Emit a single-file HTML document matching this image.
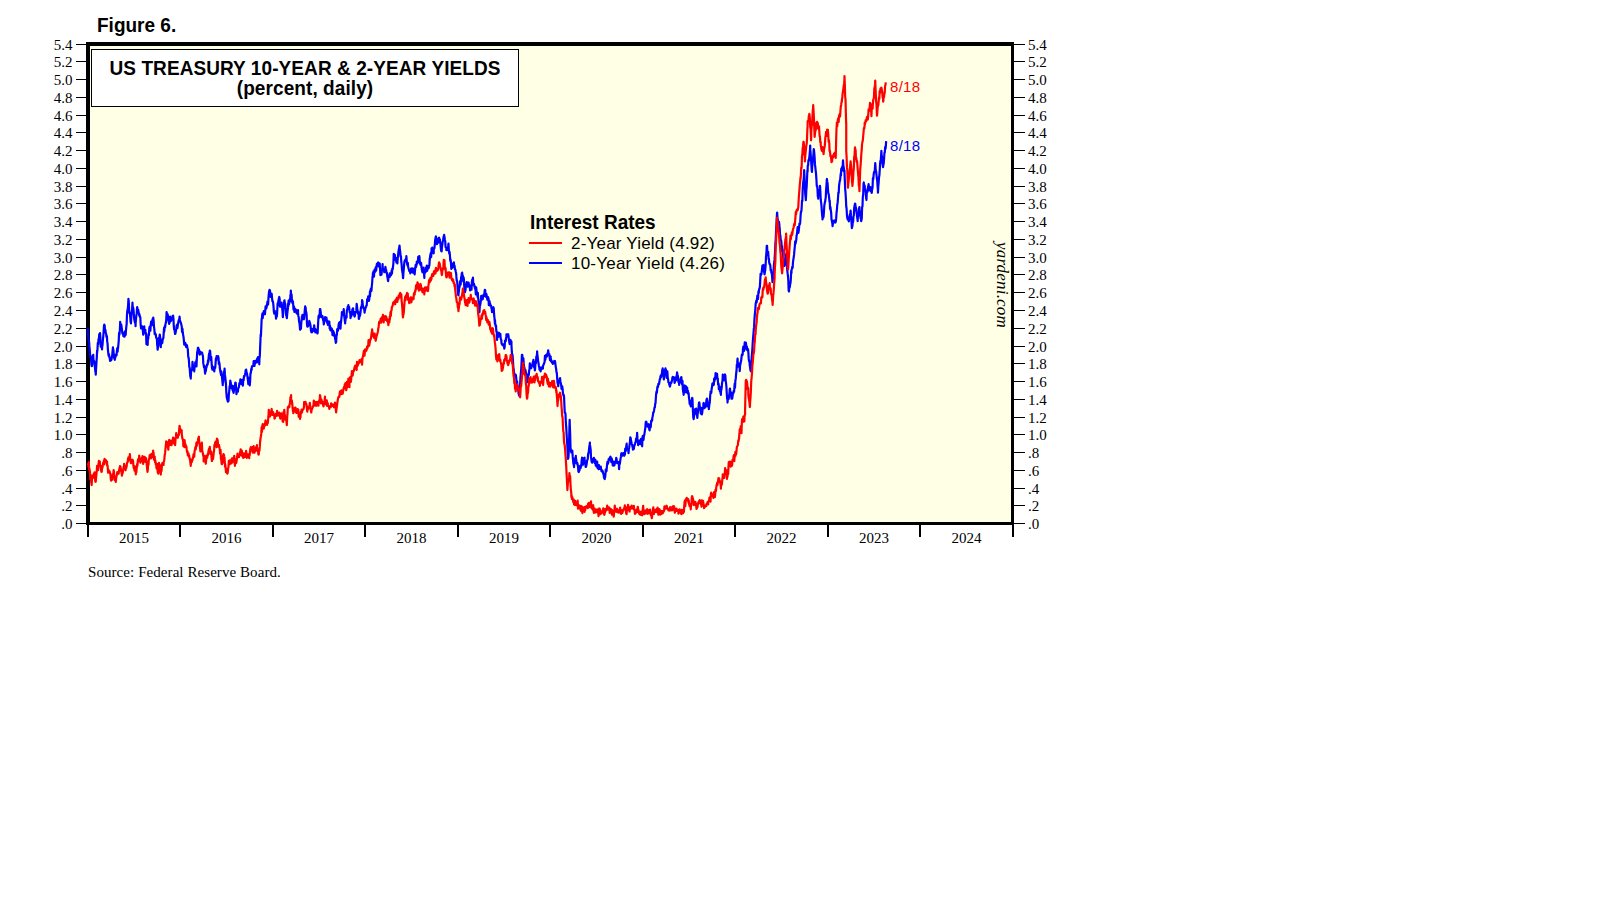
<!DOCTYPE html>
<html><head><meta charset="utf-8"><style>
html,body{margin:0;padding:0;width:1610px;height:910px;background:#fff;overflow:hidden;position:relative}
div{position:absolute;white-space:nowrap}
.yl,.yr,.xl,.src{font-family:"Liberation Serif",serif;font-size:15px;line-height:18px;color:#000}
.yl{text-align:right}
.xl{width:60px;text-align:center}
.sans{font-family:"Liberation Sans",sans-serif}
</style></head><body>
<svg width="1610" height="910" style="position:absolute;left:0;top:0" shape-rendering="crispEdges">
<rect x="90" y="46" width="921" height="476" fill="#FFFFE6"/>
<rect x="91.5" y="49.5" width="427" height="57" fill="#fff" stroke="#000" stroke-width="1"/>
<rect x="86" y="42" width="928" height="4" fill="#000"/>
<rect x="86" y="42" width="4" height="483" fill="#000"/>
<rect x="1011" y="42" width="3" height="483" fill="#000"/>
<rect x="86" y="522" width="928" height="3" fill="#000"/>
<rect x="76" y="44" width="10" height="1" fill="#000"/>
<rect x="1014" y="44" width="11" height="1" fill="#000"/>
<rect x="76" y="61" width="10" height="1" fill="#000"/>
<rect x="1014" y="61" width="11" height="1" fill="#000"/>
<rect x="76" y="79" width="10" height="1" fill="#000"/>
<rect x="1014" y="79" width="11" height="1" fill="#000"/>
<rect x="76" y="97" width="10" height="1" fill="#000"/>
<rect x="1014" y="97" width="11" height="1" fill="#000"/>
<rect x="76" y="115" width="10" height="1" fill="#000"/>
<rect x="1014" y="115" width="11" height="1" fill="#000"/>
<rect x="76" y="132" width="10" height="1" fill="#000"/>
<rect x="1014" y="132" width="11" height="1" fill="#000"/>
<rect x="76" y="150" width="10" height="1" fill="#000"/>
<rect x="1014" y="150" width="11" height="1" fill="#000"/>
<rect x="76" y="168" width="10" height="1" fill="#000"/>
<rect x="1014" y="168" width="11" height="1" fill="#000"/>
<rect x="76" y="186" width="10" height="1" fill="#000"/>
<rect x="1014" y="186" width="11" height="1" fill="#000"/>
<rect x="76" y="203" width="10" height="1" fill="#000"/>
<rect x="1014" y="203" width="11" height="1" fill="#000"/>
<rect x="76" y="221" width="10" height="1" fill="#000"/>
<rect x="1014" y="221" width="11" height="1" fill="#000"/>
<rect x="76" y="239" width="10" height="1" fill="#000"/>
<rect x="1014" y="239" width="11" height="1" fill="#000"/>
<rect x="76" y="257" width="10" height="1" fill="#000"/>
<rect x="1014" y="257" width="11" height="1" fill="#000"/>
<rect x="76" y="274" width="10" height="1" fill="#000"/>
<rect x="1014" y="274" width="11" height="1" fill="#000"/>
<rect x="76" y="292" width="10" height="1" fill="#000"/>
<rect x="1014" y="292" width="11" height="1" fill="#000"/>
<rect x="76" y="310" width="10" height="1" fill="#000"/>
<rect x="1014" y="310" width="11" height="1" fill="#000"/>
<rect x="76" y="328" width="10" height="1" fill="#000"/>
<rect x="1014" y="328" width="11" height="1" fill="#000"/>
<rect x="76" y="346" width="10" height="1" fill="#000"/>
<rect x="1014" y="346" width="11" height="1" fill="#000"/>
<rect x="76" y="363" width="10" height="1" fill="#000"/>
<rect x="1014" y="363" width="11" height="1" fill="#000"/>
<rect x="76" y="381" width="10" height="1" fill="#000"/>
<rect x="1014" y="381" width="11" height="1" fill="#000"/>
<rect x="76" y="399" width="10" height="1" fill="#000"/>
<rect x="1014" y="399" width="11" height="1" fill="#000"/>
<rect x="76" y="417" width="10" height="1" fill="#000"/>
<rect x="1014" y="417" width="11" height="1" fill="#000"/>
<rect x="76" y="434" width="10" height="1" fill="#000"/>
<rect x="1014" y="434" width="11" height="1" fill="#000"/>
<rect x="76" y="452" width="10" height="1" fill="#000"/>
<rect x="1014" y="452" width="11" height="1" fill="#000"/>
<rect x="76" y="470" width="10" height="1" fill="#000"/>
<rect x="1014" y="470" width="11" height="1" fill="#000"/>
<rect x="76" y="488" width="10" height="1" fill="#000"/>
<rect x="1014" y="488" width="11" height="1" fill="#000"/>
<rect x="76" y="505" width="10" height="1" fill="#000"/>
<rect x="1014" y="505" width="11" height="1" fill="#000"/>
<rect x="76" y="523" width="10" height="1" fill="#000"/>
<rect x="1014" y="523" width="11" height="1" fill="#000"/>
<rect x="87" y="525" width="2" height="12" fill="#000"/>
<rect x="179" y="525" width="2" height="12" fill="#000"/>
<rect x="272" y="525" width="2" height="12" fill="#000"/>
<rect x="364" y="525" width="2" height="12" fill="#000"/>
<rect x="457" y="525" width="2" height="12" fill="#000"/>
<rect x="549" y="525" width="2" height="12" fill="#000"/>
<rect x="642" y="525" width="2" height="12" fill="#000"/>
<rect x="734" y="525" width="2" height="12" fill="#000"/>
<rect x="827" y="525" width="2" height="12" fill="#000"/>
<rect x="919" y="525" width="2" height="12" fill="#000"/>
<rect x="1012" y="525" width="2" height="12" fill="#000"/>
</svg>
<svg width="1610" height="910" style="position:absolute;left:0;top:0">
<path d="M87.75 328.21 L87.75 330.66 L88.11 334.28 L88.47 339.86 L88.83 341.03 L89.19 342.27 L89.40 347.14 L89.55 347.46 L89.91 352.16 L90.27 356.95 L90.63 355.90 L90.99 357.57 L91.35 364.21 L91.59 365.82 L91.71 366.16 L92.07 366.06 L92.43 363.25 L92.79 358.56 L93.15 355.12 L93.24 354.84 L93.51 361.95 L93.87 360.66 L94.23 361.26 L94.59 362.70 L94.95 367.57 L95.31 371.11 L95.67 373.16 L95.77 374.62 L96.03 369.56 L96.39 363.73 L96.75 358.20 L97.09 350.44 L97.11 352.97 L97.47 349.38 L97.83 342.79 L98.19 344.28 L98.55 338.98 L98.91 338.37 L99.27 334.07 L99.63 334.22 L99.84 333.96 L99.99 333.17 L100.35 337.41 L100.71 346.62 L101.07 344.45 L101.43 347.35 L101.79 345.65 L102.03 349.34 L102.15 346.89 L102.51 344.98 L102.87 340.06 L103.23 336.68 L103.59 332.29 L103.95 325.92 L104.23 324.62 L104.31 325.53 L104.67 325.17 L105.03 331.59 L105.39 329.92 L105.75 332.96 L106.11 333.66 L106.47 336.93 L106.83 335.96 L106.98 337.25 L107.19 341.30 L107.55 343.62 L107.91 349.78 L108.27 353.04 L108.63 355.73 L108.63 354.84 L108.99 354.12 L109.35 357.14 L109.71 357.85 L110.07 360.81 L110.43 358.06 L110.79 359.51 L111.15 360.25 L111.37 359.23 L111.51 359.41 L111.87 356.98 L112.23 354.69 L112.59 350.93 L112.95 347.45 L113.02 349.34 L113.31 349.18 L113.67 353.09 L114.03 357.27 L114.39 358.64 L114.67 357.03 L114.75 359.79 L115.11 358.17 L115.47 356.77 L115.83 354.57 L116.19 354.33 L116.55 355.50 L116.91 350.90 L117.27 348.03 L117.63 351.72 L117.97 347.14 L117.99 348.47 L118.35 345.18 L118.71 341.10 L119.07 332.96 L119.43 334.76 L119.79 331.08 L120.15 323.89 L120.17 321.87 L120.51 325.29 L120.87 325.55 L121.23 324.61 L121.59 326.88 L121.95 329.54 L122.31 332.83 L122.67 334.01 L122.91 332.86 L123.03 333.71 L123.39 336.17 L123.75 332.89 L124.11 335.21 L124.47 336.74 L124.83 334.60 L125.19 331.16 L125.55 332.10 L125.66 335.05 L125.91 331.03 L126.27 327.08 L126.63 324.24 L126.99 314.58 L127.31 310.88 L127.35 310.33 L127.71 309.48 L128.07 305.96 L128.43 298.83 L128.74 301.54 L128.79 302.29 L129.15 310.69 L129.51 313.34 L129.87 313.04 L130.23 316.70 L130.59 321.80 L130.61 321.87 L130.95 323.35 L131.31 317.37 L131.67 311.98 L132.03 310.65 L132.39 304.38 L132.47 302.64 L132.75 308.73 L133.11 307.34 L133.47 309.27 L133.83 314.18 L134.19 319.00 L134.55 320.83 L134.91 322.62 L135.27 320.84 L135.55 326.26 L135.63 322.95 L135.99 319.21 L136.35 315.31 L136.71 313.43 L137.07 308.09 L137.20 307.03 L137.43 309.21 L137.79 309.54 L138.15 309.63 L138.51 311.38 L138.87 313.34 L139.23 315.61 L139.40 314.18 L139.59 315.06 L139.95 317.19 L140.31 317.20 L140.67 324.78 L141.03 328.39 L141.39 327.85 L141.59 328.46 L141.75 327.90 L142.11 326.36 L142.47 328.99 L142.83 330.14 L143.19 334.73 L143.55 332.52 L143.91 330.10 L144.27 326.33 L144.63 333.19 L144.99 333.10 L145.35 329.76 L145.44 332.86 L145.71 333.79 L146.07 332.93 L146.43 344.24 L146.79 344.29 L147.15 344.60 L147.51 344.58 L147.64 344.95 L147.87 339.05 L148.23 339.02 L148.59 334.26 L148.95 335.25 L149.31 328.18 L149.67 326.63 L149.84 328.46 L150.03 329.46 L150.39 330.73 L150.75 324.79 L151.11 321.63 L151.47 324.84 L151.83 325.07 L152.19 320.79 L152.55 319.42 L152.91 318.34 L153.13 319.67 L153.27 317.56 L153.63 320.52 L153.99 326.84 L154.35 329.19 L154.71 334.21 L155.07 333.00 L155.43 334.12 L155.79 334.33 L156.15 337.69 L156.51 337.89 L156.87 338.60 L157.23 345.34 L157.53 347.14 L157.59 349.71 L157.95 347.38 L158.31 346.28 L158.67 342.41 L159.03 337.92 L159.39 336.79 L159.73 335.05 L159.75 334.51 L160.11 336.80 L160.47 339.09 L160.83 347.14 L160.83 342.93 L161.19 344.18 L161.55 343.69 L161.91 341.12 L162.27 342.97 L162.63 339.86 L162.99 338.55 L163.35 338.26 L163.71 332.91 L164.07 327.84 L164.12 331.76 L164.43 329.99 L164.79 326.06 L165.15 327.22 L165.51 323.95 L165.87 322.65 L166.23 320.11 L166.59 311.99 L166.87 313.63 L166.95 314.29 L167.31 313.89 L167.67 314.46 L168.03 316.13 L168.39 319.90 L168.75 322.12 L169.11 323.89 L169.47 319.94 L169.62 322.97 L169.83 320.61 L170.19 316.49 L170.55 319.30 L170.91 321.04 L171.27 318.33 L171.63 319.03 L171.99 318.71 L172.35 319.67 L172.71 315.79 L172.91 316.37 L173.07 315.66 L173.43 318.38 L173.79 326.25 L174.15 329.30 L174.51 329.80 L174.87 332.67 L175.11 333.96 L175.23 333.94 L175.59 332.70 L175.95 330.56 L176.31 328.72 L176.67 325.38 L177.03 324.66 L177.39 328.09 L177.75 325.94 L178.11 323.41 L178.47 321.14 L178.83 320.07 L179.19 319.39 L179.51 317.47 L179.55 316.62 L179.91 319.68 L180.27 322.02 L180.63 322.08 L180.99 323.36 L181.35 324.66 L181.71 326.26 L182.07 331.98 L182.43 328.54 L182.79 333.03 L183.15 335.03 L183.51 336.95 L183.87 340.30 L184.23 344.70 L184.29 342.86 L184.59 344.06 L184.95 343.70 L185.31 342.98 L185.67 344.07 L186.03 346.81 L186.39 345.36 L186.43 345.71 L186.75 345.03 L187.11 346.09 L187.47 348.07 L187.83 349.44 L188.19 356.17 L188.55 358.05 L188.57 357.14 L188.91 360.34 L189.27 366.97 L189.63 367.25 L189.99 372.67 L190.35 376.91 L190.71 376.01 L190.72 378.57 L191.07 371.72 L191.43 369.53 L191.79 370.40 L192.15 369.31 L192.51 361.80 L192.57 362.86 L192.87 365.95 L193.23 365.86 L193.59 367.07 L193.95 368.37 L194.29 371.43 L194.31 370.26 L194.67 365.44 L195.03 364.29 L195.39 362.13 L195.75 363.59 L196.11 365.88 L196.43 360.00 L196.47 366.46 L196.83 358.73 L197.19 352.00 L197.55 350.96 L197.91 347.94 L198.27 351.23 L198.29 347.86 L198.63 351.25 L198.99 349.67 L199.35 353.46 L199.71 354.75 L200.00 354.29 L200.07 351.46 L200.43 352.10 L200.79 352.71 L201.15 353.24 L201.51 353.46 L201.87 352.42 L202.14 352.86 L202.23 353.64 L202.59 354.85 L202.95 356.36 L203.31 363.40 L203.67 364.97 L204.03 367.36 L204.39 365.77 L204.75 369.92 L205.00 372.86 L205.11 373.71 L205.47 368.79 L205.83 371.08 L206.19 367.79 L206.55 367.38 L206.91 365.17 L207.14 364.29 L207.27 364.15 L207.63 364.64 L207.99 360.44 L208.35 361.98 L208.71 356.62 L209.07 353.57 L209.43 354.81 L209.79 350.50 L210.00 351.43 L210.15 351.10 L210.51 356.23 L210.87 360.06 L211.23 356.91 L211.59 362.21 L211.95 368.24 L212.14 365.71 L212.31 369.69 L212.67 367.69 L213.03 367.05 L213.39 368.13 L213.75 367.42 L214.11 369.65 L214.29 371.43 L214.47 369.51 L214.83 367.48 L215.19 367.93 L215.55 363.64 L215.91 358.30 L216.27 360.12 L216.43 357.86 L216.63 356.15 L216.99 356.62 L217.35 357.47 L217.71 357.39 L218.07 356.13 L218.43 357.34 L218.57 358.57 L218.79 363.88 L219.15 362.02 L219.51 363.91 L219.87 368.51 L220.23 370.65 L220.59 372.83 L220.72 371.43 L220.95 375.05 L221.31 371.37 L221.67 373.82 L222.03 377.88 L222.39 381.18 L222.75 385.11 L222.86 382.86 L223.11 382.56 L223.47 377.83 L223.83 374.87 L224.19 371.38 L224.55 369.15 L224.57 368.57 L224.91 374.42 L225.27 377.43 L225.63 380.68 L225.99 384.87 L226.35 393.32 L226.43 392.86 L226.71 397.16 L227.07 398.70 L227.43 400.05 L227.79 401.57 L228.15 401.52 L228.29 401.43 L228.51 400.76 L228.87 393.97 L229.23 391.11 L229.59 386.68 L229.95 385.75 L230.29 381.43 L230.31 380.62 L230.67 382.28 L231.03 384.66 L231.39 388.17 L231.75 385.80 L232.11 385.67 L232.47 390.02 L232.83 388.36 L233.19 391.85 L233.55 391.73 L233.57 392.86 L233.91 390.77 L234.27 385.81 L234.63 388.22 L234.99 385.34 L235.35 382.50 L235.71 386.42 L235.72 382.86 L236.07 387.11 L236.43 394.18 L236.79 391.37 L237.14 390.00 L237.15 390.24 L237.51 389.41 L237.87 391.56 L238.23 388.33 L238.59 387.72 L238.95 387.06 L239.31 383.40 L239.67 383.78 L240.03 382.02 L240.39 379.41 L240.72 381.43 L240.75 382.40 L241.11 383.82 L241.47 383.56 L241.83 382.03 L242.19 379.88 L242.55 384.72 L242.86 385.71 L242.91 385.13 L243.27 380.00 L243.63 380.32 L243.99 376.11 L244.35 376.45 L244.71 375.50 L245.07 374.26 L245.43 372.22 L245.72 370.00 L245.79 370.83 L246.15 369.61 L246.51 371.77 L246.87 373.17 L247.23 375.15 L247.59 377.76 L247.95 380.25 L248.31 384.04 L248.67 377.77 L249.03 382.84 L249.29 384.29 L249.39 383.02 L249.75 385.30 L250.11 381.45 L250.47 373.27 L250.83 373.08 L251.19 369.33 L251.43 368.57 L251.55 370.08 L251.91 366.25 L252.27 366.63 L252.63 366.30 L252.99 365.90 L253.35 364.43 L253.71 361.10 L254.07 364.32 L254.29 364.29 L254.43 365.95 L254.79 363.84 L255.15 360.87 L255.51 361.98 L255.87 362.60 L256.23 360.86 L256.59 360.22 L256.95 362.43 L257.14 359.29 L257.31 358.27 L257.67 358.97 L258.03 357.08 L258.39 359.51 L258.75 360.75 L259.11 361.26 L259.29 364.29 L259.47 358.30 L259.83 355.86 L260.19 345.84 L260.55 337.71 L260.72 334.29 L260.91 336.15 L261.27 328.29 L261.63 319.31 L261.99 317.61 L262.14 315.71 L262.35 313.70 L262.71 318.14 L263.07 313.57 L263.43 313.41 L263.79 311.18 L264.15 313.79 L264.51 312.23 L264.87 313.53 L265.00 314.29 L265.23 310.79 L265.59 306.30 L265.72 306.43 L265.95 307.74 L266.31 308.43 L266.67 306.77 L267.03 304.22 L267.14 305.71 L267.39 301.56 L267.75 301.64 L268.11 304.32 L268.47 297.83 L268.83 293.63 L269.19 290.95 L269.29 292.14 L269.55 289.84 L269.91 290.41 L270.27 292.54 L270.63 296.87 L270.99 295.73 L271.35 294.78 L271.43 295.71 L271.71 293.85 L272.07 298.77 L272.43 301.22 L272.79 301.00 L273.15 302.67 L273.51 306.70 L273.87 311.47 L274.23 313.58 L274.29 312.14 L274.59 312.73 L274.95 311.00 L275.00 311.30 L275.31 312.75 L275.67 313.44 L276.03 318.77 L276.39 314.51 L276.75 315.52 L276.76 316.57 L277.11 313.56 L277.47 306.06 L277.64 303.39 L277.83 305.58 L278.19 302.15 L278.55 300.58 L278.91 298.15 L278.96 298.56 L279.27 296.98 L279.63 298.65 L279.99 306.62 L280.27 304.27 L280.35 306.54 L280.71 305.61 L281.07 305.69 L281.43 304.61 L281.59 302.51 L281.79 307.09 L282.15 308.33 L282.51 311.31 L282.87 317.14 L282.91 315.69 L283.23 312.45 L283.59 306.39 L283.95 304.33 L284.31 300.63 L284.49 300.32 L284.67 302.50 L285.03 303.36 L285.39 304.93 L285.55 308.66 L285.75 308.67 L286.11 315.28 L286.47 315.83 L286.83 318.18 L286.86 317.89 L287.19 314.50 L287.55 311.01 L287.91 308.45 L288.18 303.39 L288.27 306.68 L288.63 300.53 L288.99 304.36 L289.35 302.44 L289.50 301.63 L289.71 299.44 L290.07 301.56 L290.43 294.96 L290.79 295.11 L290.82 290.65 L291.15 296.16 L291.51 294.38 L291.87 298.65 L292.14 299.88 L292.23 302.22 L292.59 303.44 L292.95 301.25 L293.31 306.41 L293.45 309.54 L293.67 308.40 L294.03 306.64 L294.39 311.82 L294.75 309.06 L294.77 308.66 L295.11 308.83 L295.47 309.60 L295.83 309.50 L296.19 310.11 L296.53 313.06 L296.55 312.62 L296.91 313.55 L297.27 312.19 L297.63 312.62 L297.99 310.15 L298.02 313.06 L298.35 315.91 L298.71 317.26 L299.07 321.68 L299.43 322.84 L299.79 326.06 L300.04 329.75 L300.15 329.09 L300.51 324.54 L300.87 329.02 L301.23 323.84 L301.36 321.85 L301.59 320.56 L301.95 316.54 L302.31 318.31 L302.42 314.82 L302.67 319.20 L303.03 318.40 L303.39 315.62 L303.75 317.30 L303.82 319.21 L304.11 317.93 L304.47 313.85 L304.83 309.51 L305.19 306.42 L305.32 308.66 L305.55 307.41 L305.91 311.10 L306.27 312.22 L306.63 315.24 L306.64 315.69 L306.99 323.98 L307.35 326.58 L307.71 323.76 L307.95 326.24 L308.07 326.31 L308.43 324.67 L308.79 322.72 L309.15 323.49 L309.27 320.97 L309.51 321.94 L309.87 322.88 L310.23 324.16 L310.59 326.19 L310.95 330.66 L311.31 332.07 L311.67 329.35 L311.91 332.39 L312.03 330.61 L312.39 329.15 L312.75 331.31 L313.11 330.14 L313.47 330.50 L313.67 328.00 L313.83 328.80 L314.19 325.37 L314.55 329.56 L314.91 330.88 L315.27 332.34 L315.42 331.51 L315.63 329.37 L315.99 331.33 L316.35 330.54 L316.71 330.45 L317.07 332.66 L317.43 333.47 L317.62 332.83 L317.79 329.30 L318.15 322.77 L318.51 316.35 L318.87 315.28 L318.94 317.45 L319.23 317.67 L319.59 315.22 L319.95 309.11 L320.31 309.07 L320.52 311.30 L320.67 311.67 L321.03 316.12 L321.39 317.19 L321.75 316.65 L322.01 315.69 L322.11 317.08 L322.47 316.12 L322.83 318.31 L323.19 320.47 L323.55 321.49 L323.77 324.48 L323.91 323.27 L324.27 320.75 L324.63 320.02 L324.99 320.57 L325.09 317.01 L325.35 320.10 L325.71 320.27 L326.07 319.69 L326.43 317.65 L326.79 320.54 L326.85 321.85 L327.15 322.89 L327.51 320.71 L327.87 324.84 L328.23 323.15 L328.59 324.31 L328.95 323.51 L329.31 321.66 L329.48 324.48 L329.67 328.75 L330.03 325.89 L330.36 328.88 L330.39 330.34 L330.75 328.53 L331.11 329.87 L331.47 328.32 L331.83 328.85 L332.19 331.90 L332.55 335.08 L332.91 330.66 L333.27 331.27 L333.44 331.51 L333.63 334.08 L333.99 332.83 L334.35 336.06 L334.71 334.97 L335.07 338.34 L335.43 339.94 L335.79 342.90 L336.07 341.18 L336.15 342.08 L336.51 335.49 L336.87 335.04 L337.23 329.19 L337.39 329.75 L337.59 329.87 L337.95 330.82 L338.31 328.27 L338.67 324.19 L339.03 325.45 L339.15 322.72 L339.39 324.37 L339.75 322.14 L340.11 323.92 L340.47 326.24 L340.47 328.66 L340.83 323.47 L341.19 320.75 L341.55 316.98 L341.78 315.69 L341.91 311.99 L342.27 313.03 L342.63 314.77 L342.99 314.69 L343.35 313.60 L343.71 309.05 L343.98 313.06 L344.07 314.72 L344.43 317.52 L344.79 320.48 L345.15 323.43 L345.30 320.97 L345.51 319.98 L345.87 316.76 L346.23 316.29 L346.59 317.52 L346.62 313.94 L346.95 309.94 L347.31 309.32 L347.67 306.91 L348.03 307.47 L348.38 305.15 L348.39 308.33 L348.75 307.58 L349.11 306.87 L349.47 310.65 L349.83 312.53 L350.19 311.99 L350.55 318.09 L350.57 317.45 L350.91 315.56 L351.27 316.35 L351.63 311.78 L351.99 314.42 L352.35 309.34 L352.71 311.99 L352.77 310.42 L353.07 308.26 L353.43 314.53 L353.79 313.78 L354.15 312.07 L354.51 315.09 L354.53 316.57 L354.87 315.80 L355.23 312.56 L355.59 311.83 L355.95 312.38 L356.31 310.91 L356.67 303.92 L357.03 306.34 L357.16 308.66 L357.39 309.42 L357.75 311.14 L358.11 313.89 L358.47 312.12 L358.83 318.88 L359.19 318.21 L359.36 315.69 L359.55 316.36 L359.91 315.77 L360.27 314.15 L360.63 310.79 L360.99 307.16 L361.35 308.18 L361.71 306.11 L362.00 303.39 L362.07 300.19 L362.43 301.16 L362.79 305.17 L363.15 306.23 L363.51 307.47 L363.87 309.14 L364.23 309.23 L364.59 312.70 L364.95 309.98 L365.07 310.42 L365.31 308.34 L365.67 307.71 L366.03 307.05 L366.39 305.63 L366.75 305.29 L367.11 299.95 L367.27 299.00 L367.47 301.13 L367.83 299.97 L368.19 296.30 L368.55 296.71 L368.91 300.98 L369.27 299.35 L369.46 296.36 L369.63 296.27 L369.99 291.60 L370.00 296.43 L370.35 291.08 L370.71 289.20 L371.07 288.43 L371.10 288.74 L371.43 290.79 L371.79 286.52 L372.15 282.52 L372.51 276.98 L372.75 276.65 L372.87 273.25 L373.23 272.99 L373.59 271.14 L373.85 271.15 L373.95 276.67 L374.31 271.57 L374.67 269.36 L375.03 271.94 L375.39 270.36 L375.75 267.01 L376.04 268.96 L376.11 270.67 L376.47 267.63 L376.83 263.93 L377.19 265.37 L377.55 265.37 L377.91 262.97 L378.24 262.36 L378.27 263.77 L378.63 266.31 L378.99 264.93 L379.35 263.43 L379.71 263.57 L380.07 269.40 L380.43 275.12 L380.44 273.35 L380.79 274.78 L381.15 274.60 L381.51 274.66 L381.87 270.18 L382.23 270.09 L382.59 264.08 L382.64 266.21 L382.95 268.04 L383.31 269.66 L383.67 270.09 L384.03 270.45 L384.29 272.25 L384.39 269.26 L384.75 269.48 L385.11 270.56 L385.39 266.76 L385.47 267.18 L385.83 270.12 L386.19 269.92 L386.55 273.01 L386.91 272.72 L387.27 276.72 L387.63 278.03 L387.99 280.81 L388.13 281.04 L388.35 278.98 L388.71 275.69 L389.07 275.22 L389.43 276.63 L389.78 273.35 L389.79 277.00 L390.15 273.80 L390.51 275.08 L390.87 275.39 L391.23 274.75 L391.59 270.67 L391.95 273.19 L391.98 273.35 L392.31 268.57 L392.67 269.25 L393.03 266.54 L393.39 263.24 L393.75 253.80 L394.11 255.14 L394.18 254.67 L394.47 257.06 L394.83 254.80 L395.19 259.51 L395.55 260.01 L395.91 260.53 L396.27 260.50 L396.37 262.36 L396.63 258.70 L396.99 257.89 L397.35 263.51 L397.71 258.25 L398.07 255.51 L398.43 251.80 L398.79 249.57 L399.15 247.86 L399.51 245.50 L399.67 246.98 L399.87 249.76 L400.23 251.59 L400.59 256.59 L400.95 256.23 L401.31 262.48 L401.32 261.26 L401.67 265.09 L402.03 269.79 L402.39 272.17 L402.75 273.84 L402.97 277.75 L403.11 278.25 L403.47 272.45 L403.83 268.76 L404.19 263.66 L404.55 261.79 L404.62 261.26 L404.91 260.05 L405.27 260.71 L405.63 260.70 L405.99 258.29 L406.26 259.07 L406.35 256.21 L406.71 260.61 L407.07 263.82 L407.43 265.27 L407.79 262.94 L408.15 266.67 L408.51 268.27 L408.87 269.47 L409.23 271.05 L409.56 271.15 L409.59 270.85 L409.95 271.62 L410.31 273.36 L410.67 271.10 L411.03 268.64 L411.39 270.65 L411.75 271.94 L412.11 268.33 L412.47 269.67 L412.83 272.69 L412.86 272.25 L413.19 271.76 L413.55 271.70 L413.91 268.72 L414.27 271.91 L414.63 274.31 L414.99 270.87 L415.06 270.05 L415.35 267.65 L415.71 264.76 L416.07 266.98 L416.43 265.07 L416.79 261.69 L417.15 263.68 L417.25 261.26 L417.51 263.01 L417.87 262.19 L418.23 256.84 L418.59 258.16 L418.95 259.64 L419.31 256.01 L419.45 257.97 L419.67 260.04 L420.03 263.50 L420.39 264.75 L420.75 262.62 L421.11 263.02 L421.47 267.44 L421.65 266.76 L421.83 269.60 L422.19 271.23 L422.55 272.27 L422.91 270.59 L423.27 270.07 L423.63 267.62 L423.99 272.77 L424.35 277.91 L424.40 273.35 L424.71 273.20 L425.07 271.20 L425.43 272.34 L425.79 271.63 L426.15 267.43 L426.51 266.97 L426.87 265.57 L427.14 267.86 L427.23 270.78 L427.59 265.96 L427.95 266.85 L428.31 268.44 L428.67 268.06 L429.03 266.20 L429.39 265.25 L429.75 258.42 L429.89 259.07 L430.11 256.89 L430.47 254.23 L430.83 252.96 L431.19 257.06 L431.54 250.27 L431.55 248.39 L431.91 250.64 L432.27 247.60 L432.63 251.72 L432.99 252.75 L433.35 249.31 L433.71 253.31 L433.74 249.18 L434.07 248.66 L434.43 248.23 L434.79 244.66 L435.15 240.40 L435.51 238.03 L435.87 236.40 L435.94 236.54 L436.23 238.42 L436.59 238.91 L436.95 244.22 L437.31 241.40 L437.67 240.70 L438.03 240.67 L438.13 242.58 L438.39 240.03 L438.75 237.86 L439.11 237.61 L439.47 240.82 L439.78 239.29 L439.83 239.99 L440.19 241.77 L440.55 245.03 L440.91 249.12 L441.27 251.13 L441.43 250.27 L441.63 251.33 L441.99 246.78 L442.35 244.65 L442.71 241.62 L443.07 240.71 L443.43 237.63 L443.79 236.24 L444.15 234.85 L444.18 235.44 L444.51 237.02 L444.87 239.38 L445.23 241.33 L445.59 247.23 L445.95 247.39 L446.31 247.80 L446.37 250.27 L446.67 250.17 L447.03 248.29 L447.39 247.86 L447.75 250.15 L448.11 247.43 L448.47 243.61 L448.83 249.58 L449.12 251.37 L449.19 253.47 L449.55 251.91 L449.91 255.01 L450.27 260.90 L450.63 259.56 L450.99 263.40 L451.32 268.96 L451.35 265.63 L451.71 266.99 L452.07 263.47 L452.43 267.77 L452.79 266.61 L453.15 266.78 L453.51 265.19 L453.52 265.66 L453.87 262.39 L454.23 266.31 L454.59 265.92 L454.95 269.31 L455.31 269.41 L455.67 271.31 L456.03 272.90 L456.26 274.45 L456.39 276.93 L456.75 280.97 L457.11 281.03 L457.47 285.42 L457.83 292.08 L458.19 294.55 L458.46 295.33 L458.55 293.67 L458.91 290.95 L459.27 287.50 L459.63 286.85 L459.99 282.66 L460.11 281.04 L460.35 281.49 L460.71 284.55 L461.07 277.78 L461.43 275.98 L461.79 273.50 L462.15 272.53 L462.51 276.63 L462.86 275.55 L462.87 276.31 L463.23 281.43 L463.59 277.39 L463.95 280.00 L464.31 287.07 L464.67 290.00 L465.03 292.23 L465.06 289.84 L465.39 290.80 L465.75 287.42 L466.11 285.15 L466.47 283.38 L466.70 282.14 L466.83 284.02 L467.19 282.94 L467.55 283.89 L467.91 286.76 L468.27 282.78 L468.63 282.65 L468.99 285.55 L469.35 285.08 L469.71 285.47 L470.07 290.41 L470.43 288.84 L470.72 287.14 L470.79 286.63 L471.15 287.54 L471.51 289.65 L471.87 282.01 L472.23 279.60 L472.59 279.44 L472.86 278.57 L472.95 277.66 L473.31 284.61 L473.67 284.59 L474.03 283.91 L474.39 286.66 L474.75 286.08 L475.00 288.57 L475.11 287.13 L475.47 289.00 L475.83 294.51 L476.19 287.26 L476.55 290.80 L476.91 294.11 L477.27 294.26 L477.63 297.04 L477.86 292.86 L477.99 296.68 L478.35 299.71 L478.71 303.09 L479.07 305.67 L479.29 310.00 L479.43 312.10 L479.79 306.12 L480.15 305.27 L480.51 303.04 L480.87 300.67 L481.23 295.91 L481.43 300.00 L481.59 297.41 L481.95 298.56 L482.31 298.41 L482.67 299.26 L483.03 297.00 L483.39 294.86 L483.75 295.61 L484.11 296.05 L484.47 292.54 L484.83 289.75 L485.00 292.86 L485.19 290.07 L485.55 294.92 L485.91 296.66 L486.27 293.82 L486.63 295.36 L486.99 297.69 L487.35 299.76 L487.71 296.82 L488.07 297.17 L488.43 300.98 L488.57 298.57 L488.79 304.94 L489.15 305.33 L489.51 300.99 L489.87 303.75 L490.23 303.96 L490.59 305.39 L490.95 305.49 L491.31 306.77 L491.43 308.57 L491.67 308.14 L492.03 312.05 L492.39 311.01 L492.75 310.16 L493.11 309.10 L493.47 307.23 L493.57 308.57 L493.83 309.76 L494.19 315.72 L494.55 318.70 L494.91 323.88 L495.00 320.00 L495.27 324.23 L495.63 325.97 L495.99 325.48 L496.35 331.55 L496.71 331.31 L497.07 339.92 L497.14 338.57 L497.43 337.34 L497.79 337.09 L498.15 333.80 L498.51 334.02 L498.87 332.71 L499.23 335.94 L499.29 334.29 L499.59 336.45 L499.95 334.86 L500.31 333.89 L500.67 338.33 L501.03 339.83 L501.39 340.05 L501.43 342.86 L501.75 343.88 L502.11 343.96 L502.47 345.08 L502.83 344.52 L503.19 344.89 L503.55 345.73 L503.91 344.20 L504.27 348.71 L504.29 348.57 L504.63 347.15 L504.99 340.71 L505.35 340.74 L505.71 341.18 L506.07 337.79 L506.43 337.22 L506.43 334.29 L506.79 335.52 L507.15 336.19 L507.51 334.41 L507.87 335.30 L508.23 334.36 L508.59 336.57 L508.95 340.14 L509.29 341.43 L509.31 342.33 L509.67 344.03 L510.03 342.47 L510.39 339.76 L510.75 341.79 L511.11 341.25 L511.43 341.43 L511.47 345.46 L511.83 351.72 L512.19 354.96 L512.55 355.09 L512.91 359.72 L513.27 365.90 L513.57 370.00 L513.63 368.74 L513.99 371.95 L514.35 374.04 L514.71 375.78 L515.07 375.89 L515.43 374.50 L515.79 374.97 L516.15 377.36 L516.51 381.78 L516.87 384.41 L517.14 381.43 L517.23 385.05 L517.59 385.76 L517.95 388.10 L518.31 390.61 L518.67 393.82 L519.03 395.42 L519.29 394.29 L519.39 390.62 L519.75 389.17 L520.11 384.13 L520.47 377.46 L520.83 373.97 L521.19 368.98 L521.55 363.33 L521.91 354.90 L522.14 355.00 L522.27 354.88 L522.63 358.42 L522.99 359.60 L523.35 358.20 L523.71 363.19 L524.07 366.54 L524.43 367.78 L524.79 369.97 L525.00 370.00 L525.15 370.06 L525.51 370.09 L525.87 373.22 L526.23 373.16 L526.59 374.97 L526.95 382.42 L527.31 380.32 L527.67 379.29 L527.86 378.57 L528.03 374.81 L528.39 375.08 L528.75 375.14 L529.11 370.89 L529.47 369.20 L529.83 363.32 L530.00 367.14 L530.19 366.53 L530.55 364.98 L530.91 366.67 L531.27 368.14 L531.63 365.12 L531.99 366.11 L532.35 364.53 L532.71 362.75 L533.07 361.65 L533.43 359.78 L533.57 361.43 L533.79 364.73 L534.15 367.25 L534.51 365.74 L534.87 370.50 L535.00 370.00 L535.23 366.96 L535.59 361.58 L535.95 363.19 L536.31 356.53 L536.67 357.28 L537.03 353.35 L537.14 351.43 L537.39 355.30 L537.75 357.51 L538.11 361.30 L538.47 362.68 L538.83 365.40 L539.19 367.40 L539.29 367.14 L539.55 369.73 L539.91 367.35 L540.27 369.56 L540.63 371.30 L540.99 368.78 L541.35 369.14 L541.71 367.43 L542.07 367.48 L542.43 368.69 L542.79 367.95 L542.86 368.57 L543.15 365.27 L543.51 364.89 L543.87 364.05 L544.23 362.88 L544.59 362.13 L544.95 355.76 L545.00 358.57 L545.31 359.86 L545.67 357.47 L546.03 355.04 L546.39 354.61 L546.75 355.61 L547.11 356.26 L547.47 353.47 L547.83 353.18 L547.86 352.86 L548.19 350.24 L548.55 353.30 L548.91 354.03 L549.27 353.99 L549.63 356.99 L549.99 360.08 L550.35 359.87 L550.71 356.55 L550.72 357.14 L551.07 361.44 L551.43 360.19 L551.79 361.41 L552.14 362.86 L552.15 361.69 L552.51 363.24 L552.87 363.77 L553.23 362.99 L553.59 361.92 L553.95 361.60 L554.31 360.87 L554.67 363.26 L555.00 361.43 L555.03 361.11 L555.39 364.07 L555.75 366.85 L556.11 368.62 L556.47 372.21 L556.83 372.83 L557.19 378.78 L557.55 382.84 L557.86 384.29 L557.91 383.86 L558.27 386.21 L558.63 381.50 L558.99 382.16 L559.35 381.53 L559.71 378.65 L560.00 378.57 L560.07 378.20 L560.43 382.19 L560.79 382.94 L561.15 384.82 L561.51 388.82 L561.87 388.87 L562.23 386.33 L562.59 388.65 L562.95 393.68 L563.31 394.48 L563.57 395.71 L563.67 394.73 L564.03 396.63 L564.39 404.81 L564.75 412.65 L565.11 412.55 L565.47 413.73 L565.83 422.43 L566.15 426.78 L566.19 426.22 L566.55 432.97 L566.91 439.47 L567.03 442.60 L567.27 444.09 L567.63 451.82 L567.99 458.87 L568.09 458.42 L568.35 457.96 L568.61 454.90 L568.71 451.00 L569.07 441.57 L569.43 428.05 L569.67 419.75 L569.79 424.89 L570.15 433.67 L570.51 447.53 L570.55 447.87 L570.87 450.26 L571.23 452.32 L571.59 450.94 L571.95 451.85 L572.30 451.39 L572.31 450.64 L572.67 456.19 L573.03 459.91 L573.39 463.90 L573.75 464.45 L574.06 467.21 L574.11 464.49 L574.47 463.70 L574.83 461.55 L575.19 458.20 L575.55 458.23 L575.82 455.78 L575.91 458.38 L576.27 459.74 L576.63 463.00 L576.99 463.99 L577.35 462.99 L577.71 464.90 L578.07 467.36 L578.43 471.58 L578.45 470.72 L578.79 472.01 L579.15 469.90 L579.51 470.37 L579.87 466.25 L580.23 465.78 L580.59 468.20 L580.95 466.21 L581.31 466.17 L581.67 459.74 L581.97 461.93 L582.03 457.71 L582.39 458.70 L582.75 462.52 L583.11 464.72 L583.47 460.78 L583.83 458.71 L584.19 457.86 L584.55 457.68 L584.61 460.18 L584.91 461.42 L585.27 461.65 L585.63 466.80 L585.99 466.82 L586.35 464.81 L586.36 465.45 L586.71 463.50 L587.07 460.65 L587.43 460.02 L587.79 458.43 L588.15 453.84 L588.51 453.27 L588.87 450.82 L589.23 447.16 L589.59 445.09 L589.88 442.60 L589.95 444.90 L590.31 447.17 L590.67 449.92 L591.03 457.35 L591.39 459.86 L591.64 461.93 L591.75 460.96 L592.11 462.56 L592.47 459.22 L592.83 461.24 L593.19 459.05 L593.55 460.24 L593.91 457.92 L594.27 459.32 L594.63 462.92 L594.99 461.88 L595.15 461.93 L595.35 459.80 L595.71 465.38 L596.07 462.74 L596.43 466.44 L596.79 463.93 L597.15 461.67 L597.51 467.83 L597.79 465.45 L597.87 465.53 L598.23 467.48 L598.59 469.21 L598.95 465.11 L599.31 466.91 L599.67 466.48 L600.03 468.97 L600.39 468.80 L600.75 466.60 L601.11 468.84 L601.47 471.20 L601.83 470.13 L602.18 470.72 L602.19 471.80 L602.55 470.86 L602.91 472.12 L603.27 473.86 L603.63 474.57 L603.99 477.58 L604.35 478.44 L604.71 479.08 L604.82 476.87 L605.07 477.61 L605.43 474.37 L605.79 469.39 L606.15 470.83 L606.51 471.16 L606.87 466.86 L607.23 463.21 L607.45 461.93 L607.59 461.74 L607.95 463.80 L608.31 462.36 L608.67 459.19 L609.03 459.58 L609.39 458.27 L609.75 458.74 L610.11 457.27 L610.47 456.62 L610.83 460.79 L610.97 458.42 L611.19 462.04 L611.55 458.42 L611.91 459.58 L612.27 461.98 L612.63 463.82 L612.73 465.45 L612.99 462.12 L613.35 465.66 L613.71 461.58 L614.07 464.61 L614.43 465.27 L614.79 463.14 L615.15 461.68 L615.51 462.40 L615.87 462.53 L616.23 457.92 L616.24 461.93 L616.59 458.76 L616.95 462.84 L617.31 463.15 L617.67 462.98 L618.03 462.13 L618.39 462.78 L618.75 463.19 L618.88 465.45 L619.11 469.22 L619.47 461.70 L619.83 463.73 L620.19 461.09 L620.55 458.61 L620.91 456.65 L621.27 453.76 L621.51 453.15 L621.63 456.26 L621.99 455.53 L622.35 454.51 L622.71 454.28 L623.07 455.09 L623.43 452.96 L623.79 454.18 L624.15 454.21 L624.15 455.78 L624.51 455.22 L624.87 454.56 L625.23 448.62 L625.59 449.12 L625.95 450.72 L626.31 445.81 L626.67 443.63 L626.78 446.12 L627.03 448.19 L627.39 448.62 L627.75 449.13 L628.11 448.80 L628.47 452.42 L628.54 453.15 L628.83 449.37 L629.19 447.40 L629.55 444.96 L629.91 442.50 L630.27 437.49 L630.30 437.33 L630.63 437.81 L630.99 440.30 L631.35 441.97 L631.71 444.18 L632.07 444.65 L632.43 446.53 L632.79 447.59 L632.94 449.63 L633.15 447.40 L633.51 447.63 L633.87 448.83 L634.23 445.07 L634.59 445.31 L634.95 444.10 L635.31 442.45 L635.67 442.25 L636.03 438.96 L636.39 439.34 L636.45 438.21 L636.75 439.58 L637.11 432.76 L637.47 438.65 L637.83 441.32 L638.19 445.19 L638.55 440.87 L638.91 442.26 L639.09 442.60 L639.27 443.18 L639.63 440.60 L639.99 443.92 L640.35 443.30 L640.71 440.52 L641.07 438.75 L641.43 439.60 L641.79 445.16 L642.15 446.26 L642.51 437.36 L642.87 435.83 L643.23 440.09 L643.48 439.96 L643.59 439.01 L643.95 435.40 L644.31 434.98 L644.67 432.10 L645.03 429.85 L645.39 427.36 L645.75 422.20 L646.11 423.60 L646.12 421.51 L646.47 422.11 L646.83 425.44 L647.19 426.21 L647.55 425.78 L647.91 426.49 L648.27 426.96 L648.63 424.22 L648.99 427.00 L649.35 429.94 L649.63 430.30 L649.71 426.90 L650.07 424.44 L650.43 427.57 L650.79 426.80 L651.15 420.77 L651.51 421.73 L651.87 419.84 L652.23 420.11 L652.27 418.00 L652.59 416.67 L652.95 414.84 L653.31 412.25 L653.67 412.29 L654.03 410.69 L654.39 408.16 L654.75 407.00 L654.90 407.45 L655.11 404.03 L655.47 403.64 L655.83 398.26 L656.19 393.60 L656.55 391.34 L656.91 392.68 L657.27 387.93 L657.54 386.36 L657.63 387.24 L657.99 386.99 L658.35 383.81 L658.71 384.69 L659.07 383.81 L659.43 381.81 L659.79 379.25 L660.15 379.10 L660.51 375.99 L660.87 376.38 L661.04 377.25 L661.23 374.75 L661.59 374.77 L661.95 373.25 L662.31 369.51 L662.67 370.01 L662.69 368.46 L663.03 374.59 L663.39 376.39 L663.75 377.86 L663.79 379.45 L664.11 378.00 L664.47 370.34 L664.83 370.02 L665.19 370.55 L665.44 368.46 L665.55 372.83 L665.91 369.49 L666.27 373.63 L666.63 377.12 L666.99 377.96 L667.09 372.86 L667.35 371.25 L667.71 377.54 L668.07 379.01 L668.43 382.47 L668.79 382.53 L669.15 383.08 L669.29 384.95 L669.51 383.73 L669.87 386.53 L670.23 385.55 L670.59 382.52 L670.95 382.44 L671.31 382.87 L671.67 381.90 L672.03 379.90 L672.39 377.58 L672.58 378.35 L672.75 376.87 L673.11 378.00 L673.47 378.62 L673.83 377.28 L674.19 377.70 L674.55 382.87 L674.78 382.75 L674.91 380.21 L675.27 377.60 L675.63 378.32 L675.99 380.48 L676.35 379.75 L676.71 375.21 L676.98 373.96 L677.07 372.41 L677.43 374.55 L677.79 375.71 L678.15 378.03 L678.51 382.03 L678.87 381.43 L679.18 384.95 L679.23 382.68 L679.59 382.77 L679.95 382.62 L680.31 380.48 L680.67 379.16 L681.03 377.46 L681.37 379.45 L681.39 377.20 L681.75 382.41 L682.11 384.21 L682.47 380.83 L682.83 388.97 L683.19 391.82 L683.55 392.84 L683.57 394.84 L683.91 392.44 L684.27 385.73 L684.63 385.43 L684.99 389.94 L685.35 392.21 L685.71 391.98 L685.77 386.04 L686.07 387.04 L686.43 387.84 L686.79 390.19 L687.15 387.53 L687.51 393.28 L687.87 390.72 L687.97 391.54 L688.23 393.64 L688.59 393.13 L688.95 397.51 L689.31 399.58 L689.67 403.90 L690.03 402.25 L690.17 404.73 L690.39 403.55 L690.75 406.45 L691.11 400.56 L691.47 401.12 L691.83 400.71 L692.19 397.96 L692.36 398.13 L692.55 400.71 L692.91 410.54 L693.27 417.47 L693.46 417.91 L693.63 419.08 L693.99 416.26 L694.35 411.27 L694.71 410.88 L695.07 412.81 L695.11 409.12 L695.43 413.54 L695.79 410.06 L696.15 408.60 L696.51 411.98 L696.87 415.67 L697.23 416.35 L697.31 417.91 L697.59 414.32 L697.95 412.33 L698.31 410.49 L698.67 406.22 L698.96 402.53 L699.03 405.69 L699.39 402.68 L699.75 406.82 L700.11 409.24 L700.47 407.39 L700.83 413.58 L701.15 413.52 L701.19 410.68 L701.55 408.05 L701.91 414.36 L702.27 412.37 L702.63 408.80 L702.99 408.55 L703.35 406.94 L703.35 403.63 L703.71 402.89 L704.07 405.29 L704.43 408.23 L704.79 406.36 L705.15 406.64 L705.51 406.03 L705.55 406.92 L705.87 406.24 L706.23 402.11 L706.59 399.30 L706.65 400.33 L706.95 398.65 L707.31 400.24 L707.67 404.03 L708.03 406.68 L708.39 406.76 L708.75 406.46 L708.85 409.12 L709.11 406.52 L709.47 403.63 L709.83 402.08 L710.19 395.55 L710.50 392.64 L710.55 391.55 L710.91 391.76 L711.27 392.84 L711.63 389.00 L711.99 386.77 L712.14 386.04 L712.35 383.68 L712.71 383.32 L713.07 385.24 L713.43 385.00 L713.79 384.83 L714.15 378.60 L714.34 380.55 L714.51 381.11 L714.87 377.72 L715.23 379.15 L715.59 373.01 L715.95 375.14 L716.31 373.59 L716.67 376.86 L717.03 374.92 L717.09 373.96 L717.39 378.82 L717.75 378.33 L718.11 384.71 L718.47 383.45 L718.74 384.95 L718.83 389.27 L719.19 387.17 L719.55 386.68 L719.91 391.45 L720.27 391.40 L720.63 393.21 L720.94 394.84 L720.99 391.56 L721.35 389.45 L721.71 387.39 L722.07 382.77 L722.43 381.24 L722.58 379.45 L722.79 374.59 L723.15 378.99 L723.51 377.28 L723.87 380.16 L724.23 376.94 L724.59 374.96 L724.95 374.38 L725.31 375.27 L725.33 375.05 L725.67 380.53 L726.03 383.22 L726.39 386.50 L726.75 393.12 L727.11 399.05 L727.47 398.79 L727.53 402.53 L727.83 397.72 L728.19 396.31 L728.55 399.19 L728.91 397.57 L729.27 394.70 L729.63 391.72 L729.73 389.34 L729.99 388.53 L730.35 393.27 L730.71 392.41 L731.07 392.32 L731.43 398.70 L731.79 394.65 L731.92 397.03 L732.15 398.70 L732.51 396.65 L732.87 393.14 L733.23 393.68 L733.59 391.14 L733.95 391.84 L734.12 391.54 L734.31 388.48 L734.67 383.71 L735.03 387.74 L735.39 380.24 L735.75 378.68 L736.11 373.80 L736.47 371.49 L736.83 364.55 L736.87 366.26 L737.19 363.40 L737.55 358.54 L737.91 365.65 L738.27 366.55 L738.63 363.44 L738.99 366.48 L739.35 366.80 L739.62 365.16 L739.71 371.15 L740.07 365.56 L740.43 364.14 L740.79 361.99 L741.15 360.54 L741.51 357.38 L741.87 354.52 L742.23 354.82 L742.59 354.86 L742.92 350.50 L742.95 348.93 L743.31 346.72 L743.67 347.60 L744.03 350.93 L744.39 347.18 L744.75 342.37 L745.11 345.33 L745.47 345.44 L745.83 347.21 L745.89 342.57 L746.19 345.49 L746.55 349.72 L746.91 346.54 L747.27 349.89 L747.63 350.34 L747.87 350.50 L747.99 349.11 L748.35 352.47 L748.71 358.41 L749.07 361.44 L749.43 361.00 L749.79 365.56 L750.15 368.19 L750.51 370.65 L750.84 370.30 L750.87 371.30 L751.23 365.93 L751.59 358.50 L751.95 354.28 L752.31 349.88 L752.67 343.28 L753.03 338.69 L753.39 334.70 L753.75 330.07 L753.81 328.71 L754.11 327.16 L754.47 318.81 L754.83 314.30 L755.19 311.03 L755.55 305.45 L755.79 302.97 L755.91 303.06 L756.27 300.59 L756.63 302.35 L756.99 299.18 L757.35 295.55 L757.71 297.44 L758.07 299.02 L758.43 291.39 L758.76 293.07 L758.79 291.75 L759.15 289.43 L759.51 288.41 L759.87 286.78 L760.23 280.67 L760.59 273.74 L760.74 275.25 L760.95 274.72 L761.31 274.62 L761.67 272.23 L762.03 269.48 L762.39 265.59 L762.72 265.35 L762.75 269.96 L763.11 265.82 L763.47 264.97 L763.83 270.75 L764.19 272.09 L764.55 274.28 L764.70 273.27 L764.91 271.84 L765.27 269.72 L765.63 265.28 L765.99 256.68 L766.35 253.96 L766.68 247.52 L766.71 245.92 L767.07 245.87 L767.43 253.25 L767.79 253.67 L768.15 251.84 L768.51 257.10 L768.66 259.41 L768.87 258.69 L769.23 262.74 L769.59 264.08 L769.95 264.30 L770.31 265.74 L770.64 269.31 L770.67 270.42 L771.03 269.66 L771.39 272.83 L771.75 272.78 L772.11 276.94 L772.47 282.14 L772.62 279.21 L772.83 279.45 L773.19 276.52 L773.55 271.79 L773.91 264.99 L774.27 261.76 L774.60 259.41 L774.63 258.81 L774.99 252.92 L775.35 244.21 L775.71 239.23 L776.07 230.21 L776.43 224.26 L776.79 217.49 L776.98 213.86 L777.15 212.56 L777.51 218.45 L777.87 219.84 L778.23 221.92 L778.59 223.82 L778.95 221.75 L779.31 224.10 L779.56 229.70 L779.67 227.59 L780.03 234.60 L780.39 235.55 L780.75 240.24 L781.11 240.36 L781.47 242.79 L781.54 245.54 L781.83 245.90 L782.19 251.57 L782.55 249.47 L782.91 253.51 L783.27 257.57 L783.63 259.93 L783.99 262.01 L784.35 265.92 L784.51 265.35 L784.71 265.21 L785.07 260.28 L785.43 260.60 L785.79 256.33 L786.15 254.42 L786.49 253.47 L786.51 256.44 L786.87 265.25 L787.23 269.88 L787.59 273.19 L787.95 275.74 L788.31 280.53 L788.67 290.85 L788.86 291.09 L789.03 291.48 L789.39 285.12 L789.75 287.44 L790.11 284.40 L790.47 283.22 L790.83 279.29 L791.19 271.19 L791.44 273.27 L791.55 269.88 L791.91 268.92 L792.27 266.83 L792.63 267.84 L792.99 261.98 L793.35 259.62 L793.71 257.24 L794.07 254.70 L794.43 250.28 L794.79 246.82 L795.15 241.29 L795.51 243.75 L795.87 241.65 L796.23 240.09 L796.59 235.32 L796.95 234.27 L797.31 230.23 L797.67 227.19 L797.91 228.17 L798.03 229.12 L798.33 231.93 L798.39 232.80 L798.75 230.62 L799.11 226.97 L799.47 223.44 L799.83 224.24 L800.19 222.44 L800.55 216.37 L800.91 211.90 L801.27 211.76 L801.42 210.60 L801.63 208.29 L801.99 200.71 L802.35 201.17 L802.71 188.81 L803.07 183.93 L803.43 180.94 L803.79 177.86 L804.06 171.93 L804.15 170.19 L804.51 177.28 L804.87 187.22 L805.23 194.17 L805.59 196.94 L805.82 200.05 L805.95 198.23 L806.31 190.52 L806.67 186.75 L807.03 178.68 L807.39 170.25 L807.58 171.93 L807.75 165.75 L808.11 165.39 L808.47 159.99 L808.83 160.75 L809.19 158.81 L809.55 155.13 L809.91 150.81 L810.21 145.57 L810.27 149.38 L810.63 153.25 L810.99 159.41 L811.35 164.23 L811.71 170.09 L811.97 171.93 L812.07 169.24 L812.43 164.23 L812.79 158.77 L813.15 157.54 L813.51 153.24 L813.73 149.09 L813.87 149.51 L814.23 152.44 L814.59 157.00 L814.95 164.14 L815.31 167.16 L815.67 170.66 L816.03 173.66 L816.36 178.96 L816.39 178.53 L816.75 185.84 L817.11 185.95 L817.47 189.18 L817.83 196.80 L818.12 196.54 L818.19 198.69 L818.55 193.27 L818.91 195.13 L819.27 189.94 L819.63 191.04 L819.88 189.51 L819.99 185.84 L820.35 191.37 L820.71 199.74 L821.07 202.06 L821.43 205.35 L821.79 210.76 L822.15 215.14 L822.51 218.36 L822.51 219.38 L822.87 215.39 L823.23 217.77 L823.59 216.19 L823.95 211.69 L824.31 205.68 L824.67 203.45 L825.03 201.58 L825.15 201.81 L825.39 199.40 L825.75 197.48 L826.11 189.36 L826.47 184.99 L826.83 179.24 L826.91 178.96 L827.19 181.46 L827.55 183.16 L827.91 188.00 L828.27 193.21 L828.63 193.83 L828.99 196.33 L829.35 200.16 L829.54 201.81 L829.71 200.51 L830.07 208.88 L830.43 207.06 L830.79 210.51 L831.15 212.50 L831.51 219.92 L831.87 220.16 L832.18 222.90 L832.23 221.80 L832.59 226.19 L832.95 223.34 L833.31 221.03 L833.67 221.77 L834.03 222.26 L834.39 220.39 L834.75 220.84 L835.11 220.80 L835.47 222.54 L835.70 221.14 L835.83 221.67 L836.19 218.16 L836.55 212.49 L836.91 209.96 L837.27 204.48 L837.63 202.91 L837.99 198.23 L838.33 193.02 L838.35 192.53 L838.71 192.89 L839.07 185.79 L839.43 183.08 L839.79 180.93 L840.15 179.95 L840.51 175.76 L840.87 172.88 L840.97 175.45 L841.23 168.95 L841.59 170.13 L841.95 167.02 L842.31 170.37 L842.67 166.84 L843.03 160.24 L843.08 161.39 L843.39 165.96 L843.75 167.32 L844.11 171.58 L844.47 170.34 L844.48 171.93 L844.83 180.75 L845.19 188.85 L845.55 193.26 L845.91 198.76 L846.24 207.08 L846.27 205.98 L846.63 209.32 L846.99 215.99 L847.35 218.12 L847.71 219.49 L848.07 217.78 L848.43 218.39 L848.79 221.32 L848.88 221.14 L849.15 219.17 L849.51 216.32 L849.87 214.48 L850.23 214.53 L850.59 211.20 L850.63 210.60 L850.95 215.68 L851.31 219.90 L851.67 224.90 L851.86 228.17 L852.03 226.10 L852.39 226.41 L852.75 222.47 L853.11 221.87 L853.47 216.38 L853.83 215.25 L854.19 208.04 L854.55 205.88 L854.91 203.96 L855.03 203.57 L855.27 203.76 L855.63 206.93 L855.99 207.94 L856.35 211.45 L856.71 213.17 L857.07 216.70 L857.43 218.85 L857.66 221.14 L857.79 217.93 L858.15 215.79 L858.51 214.02 L858.87 208.85 L859.23 208.04 L859.42 207.08 L859.59 210.77 L859.95 211.57 L860.31 215.38 L860.67 218.69 L861.03 218.83 L861.18 221.14 L861.39 220.41 L861.75 218.55 L862.11 207.19 L862.47 206.46 L862.83 196.81 L863.19 194.57 L863.55 183.63 L863.81 182.48 L863.91 184.58 L864.27 186.24 L864.63 185.56 L864.99 187.96 L865.35 189.91 L865.71 192.47 L866.07 197.49 L866.43 199.55 L866.45 200.05 L866.79 192.22 L867.15 192.32 L867.51 191.90 L867.87 189.00 L868.21 185.99 L868.23 189.53 L868.59 184.12 L868.95 187.19 L869.31 188.18 L869.67 190.38 L870.03 187.39 L870.39 187.07 L870.75 189.76 L871.11 191.57 L871.47 188.82 L871.72 193.02 L871.83 191.77 L872.19 188.97 L872.55 187.47 L872.91 178.15 L873.27 179.48 L873.63 174.93 L873.99 172.26 L874.35 171.84 L874.71 171.41 L875.07 166.04 L875.24 163.15 L875.43 165.28 L875.79 171.36 L876.15 171.28 L876.51 175.26 L876.87 178.27 L877.23 180.73 L877.59 186.36 L877.87 189.51 L877.95 192.72 L878.31 186.46 L878.67 182.31 L879.03 177.23 L879.39 175.26 L879.75 170.00 L880.11 163.51 L880.47 160.76 L880.83 159.86 L881.19 153.75 L881.39 150.84 L881.55 154.91 L881.91 156.18 L882.27 163.05 L882.63 163.86 L882.99 167.13 L883.15 166.66 L883.35 164.94 L883.71 163.57 L884.07 158.87 L884.43 152.79 L884.79 152.40 L885.15 147.10 L885.51 148.76 L885.87 145.73 L886.13 141.18" fill="none" stroke="#0000ff" stroke-width="2.2" stroke-linejoin="round"/>
<path d="M88.08 463.90 L88.08 463.85 L88.44 466.74 L88.80 462.03 L89.16 469.96 L89.52 468.99 L89.88 472.38 L89.95 471.54 L90.24 479.38 L90.60 475.17 L90.96 478.34 L91.32 482.83 L91.59 484.73 L91.68 485.01 L92.04 478.08 L92.40 475.51 L92.69 475.93 L92.76 478.10 L93.12 475.39 L93.48 476.90 L93.84 473.48 L94.20 473.38 L94.34 475.93 L94.56 472.35 L94.92 477.38 L95.28 481.65 L95.64 481.76 L95.77 481.43 L96.00 478.49 L96.36 474.99 L96.72 471.45 L97.08 465.93 L97.09 466.04 L97.44 466.54 L97.80 469.17 L98.16 470.10 L98.52 464.35 L98.88 460.84 L99.24 465.77 L99.60 464.97 L99.84 461.65 L99.96 465.56 L100.32 466.13 L100.68 465.81 L101.04 469.31 L101.40 471.82 L101.48 469.34 L101.76 471.66 L102.12 466.00 L102.48 467.70 L102.84 464.58 L103.20 462.77 L103.56 462.81 L103.92 460.55 L104.28 464.38 L104.56 458.90 L104.64 461.50 L105.00 460.71 L105.36 459.83 L105.72 460.74 L106.08 460.34 L106.44 462.14 L106.80 463.53 L106.98 461.65 L107.16 465.77 L107.52 465.23 L107.88 469.45 L108.08 472.64 L108.24 472.36 L108.60 469.80 L108.96 472.08 L109.32 471.55 L109.68 471.63 L109.73 471.54 L110.04 473.72 L110.40 473.51 L110.76 478.94 L111.12 480.64 L111.48 479.07 L111.59 479.78 L111.84 479.84 L112.20 479.49 L112.56 475.48 L112.92 474.24 L113.28 475.12 L113.35 473.74 L113.64 470.09 L114.00 472.34 L114.36 477.38 L114.67 479.23 L114.72 480.24 L115.08 476.91 L115.44 478.99 L115.80 481.84 L116.16 478.16 L116.52 476.05 L116.88 475.13 L117.24 472.17 L117.60 473.93 L117.96 473.21 L117.97 472.64 L118.32 473.15 L118.68 473.67 L119.04 470.19 L119.40 468.59 L119.76 467.56 L119.95 466.04 L120.12 470.59 L120.48 466.62 L120.84 469.46 L121.20 470.17 L121.56 473.01 L121.81 474.29 L121.92 475.60 L122.28 473.44 L122.64 473.31 L123.00 471.35 L123.36 468.13 L123.72 466.45 L124.01 467.14 L124.08 463.93 L124.44 466.85 L124.80 466.62 L125.16 469.15 L125.52 470.29 L125.88 467.04 L126.21 468.24 L126.24 465.63 L126.60 466.80 L126.96 462.91 L127.32 462.67 L127.68 462.14 L128.04 458.72 L128.40 460.79 L128.41 457.25 L128.76 457.46 L129.12 459.41 L129.48 458.81 L129.84 454.17 L130.20 458.73 L130.56 460.63 L130.92 463.18 L131.15 462.75 L131.28 462.57 L131.64 460.51 L132.00 459.90 L132.36 459.72 L132.72 461.38 L132.80 460.00 L133.08 461.35 L133.44 465.94 L133.80 467.95 L133.90 466.04 L134.16 466.45 L134.52 470.64 L134.88 466.39 L135.24 470.83 L135.60 471.25 L135.77 474.29 L135.96 472.06 L136.32 472.37 L136.68 468.30 L137.04 464.90 L137.20 463.85 L137.40 465.81 L137.76 461.43 L138.12 459.23 L138.48 461.43 L138.84 460.61 L139.20 455.51 L139.40 457.25 L139.56 457.68 L139.92 461.34 L140.28 461.80 L140.50 462.75 L140.64 461.62 L141.00 461.48 L141.36 460.92 L141.72 458.24 L142.08 459.86 L142.14 458.35 L142.44 456.05 L142.80 458.38 L143.16 463.90 L143.52 459.51 L143.88 460.63 L144.24 456.85 L144.34 461.65 L144.60 458.10 L144.96 457.22 L145.32 458.88 L145.68 457.76 L145.99 458.35 L146.04 462.12 L146.40 461.13 L146.76 464.86 L147.12 468.70 L147.42 470.99 L147.48 471.90 L147.84 469.57 L148.20 461.73 L148.56 464.71 L148.74 459.45 L148.92 459.87 L149.28 457.92 L149.64 455.34 L150.00 456.85 L150.36 454.51 L150.72 457.62 L150.94 458.35 L151.08 456.42 L151.44 456.83 L151.80 453.84 L152.16 453.79 L152.52 457.21 L152.88 455.24 L153.13 450.66 L153.24 452.95 L153.60 452.86 L153.96 459.76 L154.23 459.45 L154.32 456.96 L154.68 456.56 L155.04 462.28 L155.40 460.59 L155.76 464.40 L156.12 464.39 L156.48 468.01 L156.84 468.71 L156.98 463.85 L157.20 468.91 L157.56 469.62 L157.75 472.09 L157.92 472.65 L158.28 473.63 L158.64 470.61 L159.00 462.85 L159.36 464.80 L159.72 464.64 L159.73 466.04 L160.08 467.62 L160.44 469.47 L160.80 474.53 L160.83 472.64 L161.16 469.79 L161.52 471.02 L161.88 465.82 L162.24 463.17 L162.60 464.00 L162.96 464.07 L163.32 463.09 L163.57 464.95 L163.68 461.83 L164.04 461.35 L164.40 458.87 L164.67 455.05 L164.76 455.05 L165.12 452.66 L165.48 448.47 L165.84 444.95 L166.20 441.34 L166.32 444.07 L166.56 442.48 L166.92 441.98 L167.28 443.77 L167.64 446.73 L168.00 447.58 L168.36 449.71 L168.52 446.81 L168.72 445.14 L169.08 440.08 L169.44 439.81 L169.80 445.03 L170.16 443.08 L170.17 440.77 L170.52 440.81 L170.88 443.84 L171.24 441.44 L171.60 445.07 L171.81 441.87 L171.96 441.78 L172.32 440.11 L172.68 441.32 L173.04 437.48 L173.40 437.79 L173.46 438.57 L173.76 443.37 L174.12 443.16 L174.48 441.01 L174.84 443.09 L175.11 445.16 L175.20 443.86 L175.56 438.63 L175.92 436.63 L176.21 433.08 L176.28 435.87 L176.64 435.10 L177.00 437.22 L177.36 437.34 L177.72 437.74 L177.86 437.47 L178.08 434.87 L178.44 435.60 L178.80 435.12 L179.16 429.88 L179.52 425.97 L179.73 426.48 L179.88 427.51 L180.24 428.55 L180.60 431.76 L180.96 432.29 L181.32 432.04 L181.68 430.29 L181.70 433.08 L182.04 436.18 L182.40 438.95 L182.76 439.07 L183.12 440.67 L183.35 446.26 L183.48 441.60 L183.84 446.48 L184.20 446.05 L184.40 447.14 L184.56 440.10 L184.92 442.95 L185.28 444.13 L185.64 445.36 L186.00 445.86 L186.04 446.04 L186.36 446.39 L186.72 449.66 L187.08 452.09 L187.44 451.20 L187.80 455.42 L188.16 454.16 L188.24 453.74 L188.52 453.53 L188.88 456.63 L189.24 455.58 L189.60 458.74 L189.96 459.37 L190.32 462.03 L190.68 465.28 L190.77 465.82 L191.04 459.78 L191.40 462.54 L191.76 462.07 L192.12 459.93 L192.48 460.12 L192.64 458.13 L192.84 458.81 L193.20 456.60 L193.56 454.15 L193.92 456.39 L194.28 456.61 L194.29 454.84 L194.64 450.86 L195.00 449.51 L195.36 447.09 L195.72 449.29 L196.08 446.02 L196.44 442.58 L196.80 445.96 L197.03 442.75 L197.16 443.91 L197.52 442.11 L197.88 440.78 L198.24 438.72 L198.60 437.71 L198.90 436.70 L198.96 439.08 L199.32 442.49 L199.68 444.35 L200.00 448.24 L200.04 448.22 L200.40 451.34 L200.76 446.99 L201.12 443.73 L201.48 445.21 L201.84 442.71 L201.98 444.95 L202.20 451.07 L202.56 451.79 L202.92 453.77 L203.28 455.78 L203.63 457.03 L203.64 461.39 L204.00 457.04 L204.36 458.20 L204.72 455.82 L205.08 461.46 L205.44 461.03 L205.50 460.88 L205.80 463.77 L206.16 459.81 L206.52 456.48 L206.88 455.56 L207.24 457.71 L207.60 454.48 L207.96 455.09 L208.02 454.84 L208.32 452.12 L208.68 450.12 L209.04 448.73 L209.40 451.61 L209.67 447.69 L209.76 446.81 L210.12 450.37 L210.48 453.80 L210.77 453.74 L210.84 452.91 L211.20 451.58 L211.56 457.92 L211.92 461.00 L212.28 458.63 L212.64 456.71 L212.75 459.23 L213.00 458.93 L213.36 456.13 L213.72 452.34 L214.08 450.70 L214.44 444.80 L214.80 444.83 L215.16 442.65 L215.17 446.04 L215.52 441.72 L215.88 444.84 L216.24 444.70 L216.60 447.09 L216.96 438.55 L217.32 439.61 L217.36 442.20 L217.68 440.20 L218.04 445.21 L218.40 446.55 L218.76 445.53 L219.01 444.95 L219.12 446.25 L219.48 447.27 L219.84 450.06 L220.11 453.74 L220.20 452.67 L220.56 449.78 L220.92 458.70 L221.28 459.92 L221.64 463.88 L222.00 464.24 L222.31 461.43 L222.36 463.37 L222.72 462.08 L223.08 455.60 L223.44 454.02 L223.80 456.29 L223.96 454.84 L224.16 456.49 L224.52 457.55 L224.88 463.87 L225.06 466.92 L225.24 464.46 L225.60 467.48 L225.96 472.23 L226.32 468.90 L226.68 469.96 L227.04 472.99 L227.40 473.42 L227.47 473.52 L227.76 472.31 L228.12 468.31 L228.48 466.73 L228.84 460.73 L229.20 461.98 L229.45 462.53 L229.56 464.38 L229.92 460.28 L230.28 460.66 L230.64 462.29 L231.00 463.53 L231.36 463.49 L231.72 459.05 L232.08 458.38 L232.44 462.28 L232.80 458.67 L233.16 458.82 L233.30 458.13 L233.52 457.57 L233.88 458.99 L234.24 455.92 L234.60 461.07 L234.95 465.82 L234.96 460.35 L235.32 460.61 L235.68 459.75 L236.04 463.21 L236.40 462.05 L236.76 459.96 L237.12 456.46 L237.14 457.03 L237.48 453.70 L237.84 456.48 L238.20 454.47 L238.56 455.11 L238.92 457.24 L239.28 455.38 L239.64 454.95 L239.89 454.84 L240.00 451.98 L240.36 452.95 L240.66 449.34 L240.72 450.98 L241.08 452.44 L241.44 455.50 L241.80 450.60 L242.16 453.24 L242.52 456.05 L242.88 457.03 L243.19 457.03 L243.24 457.83 L243.60 457.69 L243.96 453.30 L244.32 454.63 L244.68 457.24 L245.04 455.25 L245.40 454.06 L245.76 455.52 L245.94 453.74 L246.12 450.85 L246.48 454.27 L246.84 457.91 L247.20 455.74 L247.56 454.27 L247.92 456.91 L248.28 456.05 L248.64 455.38 L249.00 457.52 L249.23 458.13 L249.36 453.78 L249.72 455.15 L250.08 450.09 L250.44 448.20 L250.80 448.54 L250.88 447.14 L251.16 447.28 L251.52 447.66 L251.88 450.04 L252.24 451.04 L252.53 447.14 L252.60 452.60 L252.96 448.22 L253.32 450.27 L253.68 446.04 L254.04 450.13 L254.40 452.76 L254.73 450.44 L254.76 449.71 L255.12 450.54 L255.48 451.17 L255.84 448.95 L256.20 446.94 L256.56 450.31 L256.92 445.21 L256.92 447.14 L257.28 447.78 L257.64 450.84 L258.00 450.97 L258.36 454.41 L258.57 451.54 L258.72 454.65 L259.08 450.60 L259.44 450.52 L259.80 446.91 L260.16 440.29 L260.22 441.65 L260.52 438.04 L260.88 436.52 L261.24 433.89 L261.60 427.26 L261.87 428.46 L261.96 431.92 L262.32 425.60 L262.68 424.18 L263.04 426.55 L263.40 426.36 L263.76 428.61 L264.12 426.22 L264.48 425.41 L264.62 424.07 L264.84 425.68 L265.20 422.67 L265.56 420.46 L265.92 421.32 L266.28 424.41 L266.64 422.53 L267.00 424.91 L267.36 421.80 L267.72 423.35 L267.91 421.87 L268.08 420.02 L268.44 416.44 L268.79 409.78 L268.80 410.32 L269.16 411.82 L269.52 411.97 L269.88 416.54 L270.11 415.27 L270.24 415.49 L270.60 415.12 L270.96 414.63 L271.32 410.69 L271.68 408.96 L271.76 410.88 L272.04 410.89 L272.40 414.98 L272.76 412.19 L273.12 412.13 L273.48 412.88 L273.84 415.02 L274.20 415.00 L274.51 418.57 L274.56 415.98 L274.92 418.23 L275.28 415.25 L275.64 416.17 L276.00 413.69 L276.36 414.56 L276.72 415.90 L277.08 410.81 L277.44 413.07 L277.80 413.72 L277.80 413.63 L278.16 413.82 L278.52 414.73 L278.88 415.55 L279.24 412.56 L279.60 414.27 L279.94 415.60 L279.96 416.57 L280.32 418.65 L280.68 414.03 L281.04 414.32 L281.26 416.26 L281.40 413.41 L281.76 417.03 L282.12 416.93 L282.48 418.02 L282.58 421.20 L282.84 420.25 L283.20 421.97 L283.56 412.16 L283.92 415.10 L284.23 410.65 L284.28 409.77 L284.64 413.96 L285.00 415.98 L285.22 416.26 L285.36 419.68 L285.72 419.03 L286.08 418.78 L286.44 421.47 L286.80 425.21 L286.87 424.17 L287.16 417.69 L287.52 413.24 L287.86 407.03 L287.88 407.06 L288.24 406.91 L288.60 406.23 L288.96 406.92 L289.32 407.23 L289.50 405.05 L289.68 404.39 L290.04 402.37 L290.40 397.23 L290.76 397.34 L291.12 395.16 L291.15 399.12 L291.48 400.97 L291.84 400.60 L292.14 404.39 L292.20 402.64 L292.56 407.30 L292.92 411.16 L293.13 410.32 L293.28 413.26 L293.64 409.08 L294.00 409.83 L294.36 411.53 L294.72 407.96 L294.78 409.00 L295.08 408.79 L295.44 407.59 L295.80 408.90 L296.16 412.52 L296.52 412.87 L296.75 412.96 L296.88 411.81 L297.24 409.67 L297.60 412.22 L297.74 409.00 L297.96 412.21 L298.32 409.62 L298.68 416.81 L299.04 414.83 L299.40 415.85 L299.76 416.55 L300.05 418.89 L300.12 417.00 L300.48 417.31 L300.84 411.78 L301.20 411.69 L301.56 409.53 L301.70 409.66 L301.92 412.63 L302.28 410.73 L302.64 409.96 L303.00 409.63 L303.36 409.38 L303.72 408.06 L304.01 407.03 L304.08 402.01 L304.44 404.86 L304.80 403.30 L305.16 403.98 L305.46 401.75 L305.52 403.03 L305.88 403.17 L306.24 403.86 L306.60 405.17 L306.96 409.54 L307.30 411.64 L307.32 411.28 L307.68 408.61 L308.04 408.10 L308.40 408.63 L308.62 407.69 L308.76 406.50 L309.12 407.35 L309.48 406.81 L309.84 402.81 L310.20 407.19 L310.56 408.62 L310.92 410.72 L311.28 412.51 L311.59 409.66 L311.64 408.93 L312.00 409.33 L312.36 407.97 L312.72 406.37 L313.08 406.58 L313.44 405.91 L313.80 400.58 L314.16 403.69 L314.22 401.09 L314.52 402.81 L314.88 402.89 L315.21 405.71 L315.24 403.88 L315.60 404.18 L315.96 402.13 L316.32 405.63 L316.68 405.01 L317.04 401.82 L317.19 403.07 L317.40 404.38 L317.76 404.17 L318.12 403.92 L318.48 405.75 L318.51 403.73 L318.84 402.81 L319.20 400.55 L319.56 400.40 L319.83 398.46 L319.92 395.22 L320.28 396.04 L320.64 400.31 L321.00 403.31 L321.36 399.26 L321.72 402.05 L321.80 403.07 L322.08 401.29 L322.44 401.58 L322.80 403.28 L323.16 405.41 L323.52 406.43 L323.78 401.75 L323.88 404.84 L324.24 403.31 L324.60 401.47 L324.96 396.49 L325.10 399.78 L325.32 401.03 L325.68 401.32 L325.76 404.39 L326.04 401.19 L326.40 403.28 L326.76 400.33 L327.12 406.01 L327.48 405.19 L327.74 403.07 L327.84 404.65 L328.20 405.71 L328.56 406.24 L328.92 406.75 L329.28 408.90 L329.38 407.69 L329.64 406.37 L330.00 406.96 L330.36 406.53 L330.72 407.22 L331.03 405.05 L331.08 403.30 L331.44 404.87 L331.80 404.50 L332.16 405.84 L332.52 405.97 L332.88 405.21 L333.01 404.39 L333.24 405.46 L333.60 405.41 L333.96 407.16 L334.32 405.48 L334.68 405.35 L334.99 403.73 L335.04 402.57 L335.40 405.13 L335.76 409.24 L336.12 412.42 L336.31 410.98 L336.48 408.46 L336.84 406.52 L337.20 403.59 L337.56 401.47 L337.62 401.09 L337.92 399.00 L338.28 397.53 L338.64 396.89 L339.00 396.15 L339.36 396.79 L339.60 393.84 L339.72 392.66 L340.08 391.28 L340.44 394.22 L340.80 394.38 L341.16 392.89 L341.52 390.36 L341.88 393.87 L342.24 390.51 L342.60 393.77 L342.90 391.87 L342.96 392.59 L343.32 389.89 L343.68 387.86 L343.89 387.25 L344.04 388.85 L344.40 388.00 L344.76 384.38 L345.12 385.52 L345.48 383.11 L345.84 387.64 L346.19 388.57 L346.20 390.16 L346.56 388.68 L346.92 381.79 L347.18 381.98 L347.28 385.66 L347.64 386.84 L348.00 383.39 L348.36 378.66 L348.72 379.56 L349.08 383.74 L349.44 387.12 L349.49 382.64 L349.80 382.06 L350.16 377.19 L350.52 376.82 L350.88 381.80 L351.24 378.77 L351.60 374.37 L351.96 370.99 L352.32 374.77 L352.68 375.56 L353.04 372.55 L353.40 371.53 L353.76 371.09 L354.12 369.44 L354.48 367.85 L354.84 366.64 L355.20 365.56 L355.28 367.03 L355.56 368.66 L355.92 367.67 L356.28 368.33 L356.64 369.88 L357.00 361.79 L357.36 363.52 L357.72 365.80 L358.08 363.85 L358.44 362.21 L358.80 363.42 L359.12 362.64 L359.16 361.64 L359.52 360.17 L359.88 360.50 L360.24 361.02 L360.60 360.78 L360.96 362.19 L361.32 360.55 L361.68 358.76 L361.87 359.34 L362.04 364.77 L362.40 359.30 L362.76 356.94 L363.12 355.86 L363.48 353.79 L363.84 350.78 L364.07 353.85 L364.20 352.91 L364.56 355.72 L364.92 349.57 L365.28 349.43 L365.64 351.34 L366.00 349.28 L366.36 350.66 L366.72 349.50 L367.08 346.62 L367.36 348.35 L367.44 347.03 L367.80 345.75 L368.16 346.78 L368.52 340.21 L368.88 343.44 L369.24 345.55 L369.60 343.11 L369.96 341.85 L370.11 340.66 L370.32 339.22 L370.68 339.47 L371.04 337.87 L371.40 334.41 L371.76 332.86 L372.12 329.41 L372.48 333.19 L372.84 333.10 L372.86 332.97 L373.20 336.10 L373.56 336.08 L373.92 337.65 L374.28 334.75 L374.64 333.53 L375.00 336.47 L375.36 338.54 L375.61 340.66 L375.72 340.45 L376.08 338.43 L376.44 336.67 L376.80 335.48 L377.16 334.46 L377.52 332.97 L377.88 331.67 L378.24 328.56 L378.60 327.36 L378.96 323.16 L379.32 321.53 L379.68 321.65 L379.89 322.25 L380.04 322.56 L380.40 320.58 L380.76 318.55 L381.12 322.56 L381.48 320.04 L381.84 317.38 L382.20 317.96 L382.56 317.58 L382.92 314.87 L383.19 320.60 L383.28 317.87 L383.64 322.30 L384.00 318.25 L384.36 316.38 L384.72 319.25 L385.08 317.49 L385.39 316.21 L385.44 316.31 L385.80 319.89 L386.16 316.48 L386.52 318.31 L386.88 320.60 L387.24 321.28 L387.60 319.34 L387.96 319.84 L388.13 322.80 L388.32 325.21 L388.68 322.34 L389.04 320.63 L389.40 322.30 L389.76 316.55 L389.78 319.51 L390.12 316.79 L390.48 312.16 L390.84 315.83 L391.20 310.90 L391.56 310.37 L391.92 306.88 L392.28 306.68 L392.64 305.73 L393.00 303.57 L393.08 303.02 L393.36 302.32 L393.72 303.10 L394.08 302.28 L394.44 301.42 L394.80 303.35 L395.16 304.29 L395.52 300.07 L395.88 299.42 L396.24 299.60 L396.37 301.92 L396.60 301.26 L396.96 297.69 L397.32 301.95 L397.68 299.62 L398.04 298.56 L398.40 299.09 L398.76 295.42 L399.12 295.97 L399.48 295.61 L399.67 294.23 L399.84 297.08 L400.20 292.97 L400.56 296.61 L400.92 296.13 L401.28 295.29 L401.32 294.23 L401.64 301.12 L402.00 303.95 L402.36 308.44 L402.72 315.37 L402.97 317.31 L403.08 315.96 L403.44 314.69 L403.80 312.37 L404.16 306.84 L404.52 302.59 L404.62 300.82 L404.88 298.97 L405.24 296.80 L405.60 300.10 L405.96 295.40 L406.32 295.46 L406.68 295.15 L406.81 294.23 L407.04 292.95 L407.40 293.31 L407.76 293.78 L408.12 299.96 L408.48 298.73 L408.84 300.79 L409.20 303.10 L409.56 302.16 L409.56 298.63 L409.92 302.32 L410.28 298.86 L410.64 297.32 L411.00 301.14 L411.36 302.30 L411.72 297.70 L411.76 298.63 L412.08 299.90 L412.44 298.25 L412.80 298.17 L413.16 297.89 L413.52 299.09 L413.88 293.82 L414.24 292.90 L414.60 294.55 L414.96 291.43 L415.06 290.93 L415.32 291.54 L415.68 289.79 L416.04 285.47 L416.40 285.91 L416.76 288.35 L417.12 285.68 L417.48 282.35 L417.80 284.89 L417.84 283.09 L418.20 286.31 L418.56 289.18 L418.90 289.84 L418.92 290.75 L419.28 290.20 L419.64 286.21 L420.00 285.24 L420.36 283.95 L420.55 285.44 L420.72 284.33 L421.08 286.97 L421.44 290.05 L421.80 288.35 L422.16 290.93 L422.52 292.31 L422.88 288.72 L423.24 288.81 L423.60 291.28 L423.85 292.03 L423.96 289.11 L424.32 294.40 L424.68 288.21 L425.04 287.35 L425.40 290.79 L425.76 288.48 L426.12 290.39 L426.48 287.28 L426.59 288.74 L426.84 290.41 L427.20 288.12 L427.56 290.04 L427.92 291.18 L428.24 288.74 L428.28 286.35 L428.64 284.37 L429.00 280.80 L429.36 279.75 L429.72 282.22 L430.08 279.80 L430.44 279.57 L430.44 277.75 L430.80 280.58 L431.16 279.70 L431.52 278.39 L431.88 275.28 L432.24 274.01 L432.60 274.62 L432.96 275.48 L433.32 275.75 L433.68 273.84 L433.74 272.25 L434.04 271.57 L434.40 270.81 L434.76 273.55 L435.12 271.11 L435.48 273.31 L435.84 268.05 L435.94 267.86 L436.20 270.02 L436.56 269.73 L436.92 271.06 L437.28 268.78 L437.58 270.05 L437.64 270.38 L438.00 268.99 L438.36 267.46 L438.72 264.48 L439.08 262.45 L439.44 263.31 L439.78 264.01 L439.80 264.75 L440.16 266.58 L440.52 268.29 L440.88 270.17 L441.24 268.59 L441.60 274.13 L441.96 275.00 L441.98 274.45 L442.32 271.02 L442.68 268.52 L443.04 269.19 L443.40 266.17 L443.76 259.93 L444.12 263.92 L444.18 260.16 L444.48 260.26 L444.84 267.39 L445.20 269.45 L445.56 268.01 L445.92 273.69 L446.28 277.07 L446.37 274.45 L446.64 277.37 L447.00 276.26 L447.36 275.08 L447.72 274.31 L448.08 272.38 L448.44 273.21 L448.80 275.26 L449.12 272.25 L449.16 273.04 L449.52 277.57 L449.88 272.62 L450.24 274.99 L450.60 273.39 L450.96 273.08 L451.32 277.69 L451.68 278.63 L451.87 279.95 L452.04 279.09 L452.40 278.81 L452.76 280.97 L453.12 279.46 L453.48 282.46 L453.84 283.29 L454.20 282.71 L454.56 286.45 L454.62 286.54 L454.92 284.87 L455.28 290.65 L455.64 293.68 L456.00 296.72 L456.36 298.47 L456.72 301.93 L457.08 302.49 L457.44 302.64 L457.80 307.22 L458.16 307.88 L458.46 311.26 L458.52 309.78 L458.88 308.08 L459.24 303.55 L459.60 304.07 L459.96 297.28 L460.11 298.63 L460.32 299.81 L460.68 297.59 L461.04 299.66 L461.40 298.40 L461.76 296.46 L462.12 294.41 L462.48 292.73 L462.84 288.56 L462.86 290.93 L463.20 290.94 L463.56 292.26 L463.92 294.41 L464.28 297.53 L464.64 298.45 L465.00 301.90 L465.36 303.46 L465.61 305.22 L465.72 303.95 L466.08 304.60 L466.44 304.32 L466.80 300.01 L467.16 300.13 L467.52 305.98 L467.80 299.73 L467.88 301.46 L468.24 301.03 L468.60 298.09 L468.96 300.78 L469.32 302.57 L469.68 301.07 L470.00 298.57 L470.04 299.09 L470.40 298.87 L470.76 294.97 L471.12 298.75 L471.48 298.10 L471.84 299.30 L472.20 299.61 L472.56 299.39 L472.92 303.08 L473.28 301.84 L473.57 298.57 L473.64 298.51 L474.00 300.93 L474.36 302.37 L474.72 302.30 L475.08 305.68 L475.44 303.82 L475.72 304.29 L475.80 301.10 L476.16 301.93 L476.52 305.46 L476.88 304.17 L477.24 306.44 L477.57 307.14 L477.60 304.44 L477.96 311.27 L478.32 314.78 L478.68 317.26 L479.04 321.44 L479.29 325.71 L479.40 324.26 L479.76 325.14 L480.12 322.88 L480.48 320.14 L480.84 318.87 L481.20 318.76 L481.43 315.71 L481.56 317.06 L481.92 318.78 L482.28 313.88 L482.64 314.97 L483.00 313.41 L483.36 310.94 L483.72 312.13 L484.08 312.46 L484.29 310.00 L484.44 313.14 L484.80 313.54 L485.16 311.79 L485.52 314.19 L485.88 316.17 L486.24 320.16 L486.43 317.14 L486.60 318.90 L486.96 319.01 L487.32 322.35 L487.68 320.88 L487.86 320.00 L488.04 320.14 L488.40 322.25 L488.76 324.65 L489.12 324.95 L489.48 322.21 L489.84 324.73 L490.20 329.08 L490.56 327.73 L490.92 331.30 L491.28 331.82 L491.43 331.43 L491.64 330.50 L492.00 333.58 L492.36 329.04 L492.72 328.15 L493.08 329.34 L493.44 334.21 L493.80 334.45 L494.16 336.70 L494.29 335.71 L494.52 338.46 L494.88 342.45 L495.24 345.03 L495.60 348.75 L495.96 355.30 L496.32 359.51 L496.43 358.57 L496.68 356.28 L497.04 358.30 L497.40 361.41 L497.76 359.45 L498.12 355.11 L498.48 356.78 L498.84 355.86 L499.20 354.14 L499.29 354.29 L499.56 357.70 L499.92 360.85 L500.28 359.72 L500.64 362.04 L501.00 363.10 L501.36 365.59 L501.72 370.87 L502.08 369.83 L502.14 370.00 L502.44 370.09 L502.80 368.36 L503.16 366.49 L503.52 362.52 L503.88 363.79 L504.24 359.75 L504.60 361.14 L504.96 358.94 L505.32 357.72 L505.68 355.16 L505.72 355.71 L506.04 355.19 L506.40 355.95 L506.76 359.24 L507.12 361.05 L507.48 363.33 L507.84 363.89 L507.86 364.29 L508.20 364.99 L508.56 363.43 L508.92 362.31 L509.28 360.65 L509.64 360.00 L510.00 360.51 L510.36 357.39 L510.72 354.86 L511.08 356.64 L511.43 355.71 L511.44 356.73 L511.80 359.63 L512.16 363.32 L512.52 363.77 L512.88 366.96 L513.24 372.22 L513.60 376.13 L513.96 377.31 L514.29 382.86 L514.32 383.32 L514.68 381.62 L515.04 388.82 L515.40 387.97 L515.72 391.43 L515.76 389.85 L516.12 388.20 L516.48 386.60 L516.84 387.65 L517.20 384.35 L517.56 385.92 L517.86 387.14 L517.92 387.29 L518.28 388.55 L518.64 390.65 L519.00 389.66 L519.36 389.74 L519.72 391.97 L520.00 397.14 L520.08 397.26 L520.44 393.12 L520.80 384.83 L521.16 386.33 L521.52 381.76 L521.88 378.39 L522.24 374.33 L522.60 370.79 L522.86 364.29 L522.96 362.55 L523.32 365.99 L523.68 366.53 L524.04 373.20 L524.40 373.92 L524.76 373.95 L525.00 374.29 L525.12 375.42 L525.48 375.55 L525.84 382.80 L526.20 385.98 L526.56 394.12 L526.92 398.20 L527.14 398.57 L527.28 397.89 L527.64 393.43 L528.00 392.69 L528.36 386.89 L528.72 386.01 L529.08 381.64 L529.29 378.57 L529.44 378.47 L529.80 379.53 L530.16 382.66 L530.52 377.10 L530.88 380.16 L531.24 381.17 L531.60 379.60 L531.96 382.63 L532.32 382.07 L532.68 381.76 L532.86 380.00 L533.04 378.42 L533.40 380.15 L533.76 376.69 L534.12 378.89 L534.48 382.48 L534.84 377.25 L535.20 380.22 L535.56 375.60 L535.92 376.18 L536.28 377.34 L536.43 375.71 L536.64 373.89 L537.00 377.15 L537.36 376.58 L537.72 377.35 L538.08 381.09 L538.44 381.02 L538.80 382.59 L539.16 382.93 L539.29 382.86 L539.52 383.61 L539.88 385.80 L540.24 383.44 L540.60 381.72 L540.96 381.62 L541.32 382.75 L541.68 382.37 L542.04 376.93 L542.40 379.17 L542.76 380.65 L542.86 380.00 L543.12 385.04 L543.48 379.69 L543.84 378.38 L544.20 375.91 L544.56 376.97 L544.92 373.61 L545.00 377.14 L545.28 374.60 L545.64 376.56 L546.00 374.46 L546.36 376.40 L546.72 376.29 L547.08 380.22 L547.44 382.19 L547.80 383.93 L547.86 378.57 L548.16 381.28 L548.52 382.20 L548.88 386.46 L549.24 382.41 L549.60 386.46 L549.96 383.15 L550.32 386.67 L550.68 383.19 L550.72 385.71 L551.04 384.14 L551.40 384.69 L551.76 384.64 L552.12 381.18 L552.48 384.13 L552.84 384.09 L553.20 387.49 L553.56 386.63 L553.92 380.83 L554.28 383.53 L554.29 384.29 L554.64 387.64 L555.00 387.59 L555.36 387.37 L555.72 387.01 L556.08 389.89 L556.43 392.86 L556.44 390.68 L556.80 395.38 L557.16 399.22 L557.52 406.06 L557.57 404.29 L557.88 400.96 L558.24 399.99 L558.60 395.11 L558.96 394.60 L559.00 394.29 L559.32 396.66 L559.68 394.42 L560.04 392.73 L560.40 394.86 L560.72 395.71 L560.76 396.19 L561.12 399.66 L561.48 406.03 L561.84 410.48 L562.20 416.24 L562.56 417.14 L562.92 424.86 L563.28 431.42 L563.64 432.49 L564.00 441.59 L564.36 444.09 L564.72 445.03 L565.08 449.01 L565.44 454.08 L565.80 459.02 L566.15 465.45 L566.16 464.59 L566.52 473.12 L566.88 479.73 L567.24 486.52 L567.38 490.05 L567.60 486.69 L567.96 481.91 L568.32 481.57 L568.68 478.89 L569.04 480.72 L569.40 473.17 L569.67 475.99 L569.76 478.07 L570.12 476.09 L570.48 483.80 L570.84 489.55 L571.20 492.07 L571.42 497.08 L571.56 494.78 L571.92 499.09 L572.28 497.01 L572.64 498.85 L573.00 500.18 L573.36 502.29 L573.72 499.62 L574.06 502.36 L574.08 504.42 L574.44 502.91 L574.80 504.90 L575.16 500.81 L575.52 504.68 L575.88 503.61 L576.24 505.15 L576.60 502.93 L576.96 505.37 L577.32 504.58 L577.58 504.11 L577.68 500.70 L578.04 508.63 L578.40 505.02 L578.76 506.49 L579.12 505.92 L579.48 505.54 L579.84 505.89 L580.20 508.86 L580.56 510.09 L580.92 510.74 L581.28 506.16 L581.64 509.94 L581.97 509.38 L582.00 506.72 L582.36 513.05 L582.72 510.99 L583.08 511.74 L583.44 509.57 L583.80 509.08 L584.16 507.12 L584.52 511.79 L584.88 508.44 L585.24 510.14 L585.48 507.63 L585.60 506.73 L585.96 506.90 L586.32 506.35 L586.68 506.61 L587.04 505.77 L587.40 507.67 L587.76 508.16 L588.12 503.67 L588.48 504.52 L588.84 502.91 L589.20 507.05 L589.56 503.53 L589.92 505.79 L590.28 505.70 L590.64 505.14 L590.76 504.99 L591.00 501.43 L591.36 507.90 L591.72 506.41 L592.08 507.87 L592.44 509.30 L592.80 505.89 L593.16 505.13 L593.52 510.56 L593.88 512.89 L594.24 508.33 L594.60 508.69 L594.96 511.11 L595.15 509.38 L595.32 509.77 L595.68 512.31 L596.04 511.71 L596.40 510.24 L596.76 511.35 L597.12 509.46 L597.48 512.43 L597.84 509.54 L598.20 512.67 L598.56 516.07 L598.92 508.64 L599.28 513.37 L599.64 508.49 L600.00 509.92 L600.36 514.21 L600.72 514.07 L601.08 513.27 L601.44 512.49 L601.80 511.92 L602.16 512.39 L602.18 511.14 L602.52 511.12 L602.88 510.52 L603.24 508.39 L603.60 513.65 L603.96 511.65 L604.32 514.85 L604.68 513.44 L605.04 512.39 L605.40 508.92 L605.76 509.50 L606.12 510.24 L606.48 510.07 L606.57 510.26 L606.84 509.70 L607.20 505.68 L607.56 508.26 L607.92 509.38 L608.28 509.29 L608.64 509.63 L609.00 507.27 L609.36 508.02 L609.72 512.94 L610.08 509.61 L610.44 509.49 L610.80 508.88 L611.16 510.06 L611.52 509.74 L611.88 514.73 L612.24 510.18 L612.60 513.64 L612.73 511.14 L612.96 511.03 L613.32 512.07 L613.68 516.57 L614.04 512.81 L614.40 511.70 L614.76 505.65 L615.12 508.89 L615.48 510.08 L615.84 511.15 L616.20 511.69 L616.56 509.18 L616.92 508.75 L617.28 512.03 L617.64 510.95 L618.00 511.23 L618.36 512.58 L618.72 511.86 L619.08 511.74 L619.44 509.24 L619.75 511.14 L619.80 510.64 L620.16 507.54 L620.52 513.47 L620.88 510.08 L621.24 513.89 L621.60 510.59 L621.96 510.24 L622.32 512.93 L622.68 511.47 L623.04 510.89 L623.40 509.72 L623.76 509.32 L624.12 508.15 L624.48 507.65 L624.84 505.38 L625.03 509.38 L625.20 507.87 L625.56 507.21 L625.92 511.28 L626.28 513.80 L626.64 514.01 L627.00 507.74 L627.36 507.39 L627.72 507.63 L628.08 504.76 L628.44 509.97 L628.80 509.71 L629.16 508.67 L629.52 511.52 L629.88 509.36 L630.24 507.00 L630.30 506.75 L630.60 507.70 L630.96 506.62 L631.32 508.39 L631.68 505.52 L632.04 508.50 L632.40 507.96 L632.76 507.73 L633.12 507.94 L633.48 508.71 L633.84 505.88 L634.20 509.92 L634.56 509.73 L634.92 513.85 L635.28 511.65 L635.64 513.10 L636.00 511.77 L636.36 511.35 L636.72 509.24 L637.08 510.31 L637.33 512.02 L637.44 510.48 L637.80 506.73 L638.16 509.81 L638.52 509.83 L638.88 511.85 L639.24 513.86 L639.60 511.74 L639.96 514.04 L640.32 514.79 L640.68 514.00 L641.04 511.52 L641.40 511.60 L641.76 514.65 L642.12 515.33 L642.48 514.68 L642.84 508.67 L643.20 505.74 L643.56 512.93 L643.92 512.90 L644.28 514.11 L644.64 512.88 L645.00 510.70 L645.36 511.52 L645.72 510.70 L646.08 513.50 L646.12 510.26 L646.44 513.25 L646.80 509.76 L647.16 509.26 L647.52 512.85 L647.88 513.82 L648.24 513.09 L648.60 513.15 L648.96 510.14 L649.32 510.20 L649.68 513.15 L650.04 509.48 L650.40 513.21 L650.76 514.68 L651.12 515.43 L651.39 513.78 L651.48 516.11 L651.84 518.23 L652.20 515.49 L652.56 512.32 L652.92 509.44 L653.28 507.36 L653.64 511.34 L654.00 513.99 L654.36 509.51 L654.72 511.76 L655.08 510.52 L655.44 510.95 L655.80 511.89 L656.16 511.69 L656.52 509.05 L656.66 511.14 L656.88 512.13 L657.24 511.28 L657.60 507.52 L657.96 511.71 L658.32 514.57 L658.68 511.47 L659.04 514.54 L659.40 509.05 L659.76 510.07 L660.12 513.49 L660.48 514.53 L660.84 513.23 L661.20 513.94 L661.56 511.17 L661.92 512.61 L662.26 510.97 L662.28 513.49 L662.64 513.39 L663.00 511.96 L663.36 512.21 L663.72 511.21 L664.08 511.01 L664.44 506.36 L664.80 509.04 L665.16 506.49 L665.52 506.61 L665.88 507.26 L665.88 507.34 L666.24 508.30 L666.60 505.72 L666.96 506.77 L667.32 508.89 L667.68 508.47 L668.04 509.48 L668.30 509.76 L668.40 510.32 L668.76 510.34 L669.12 508.74 L669.48 509.64 L669.84 510.61 L670.20 507.11 L670.56 510.10 L670.92 507.33 L671.28 509.16 L671.64 510.12 L671.93 508.55 L672.00 510.44 L672.36 507.08 L672.72 506.72 L673.08 506.21 L673.44 509.70 L673.80 510.00 L674.16 506.31 L674.52 510.45 L674.88 512.71 L675.24 510.08 L675.56 510.36 L675.60 510.28 L675.96 510.89 L676.32 508.50 L676.68 508.91 L677.04 510.97 L677.40 509.74 L677.76 510.00 L678.12 510.28 L678.48 513.55 L678.84 511.57 L679.18 509.76 L679.20 511.09 L679.56 509.44 L679.92 512.48 L680.28 511.12 L680.64 510.60 L681.00 513.23 L681.36 514.16 L681.72 509.96 L682.08 510.02 L682.44 513.32 L682.80 510.87 L682.81 510.97 L683.16 513.18 L683.52 509.62 L683.88 512.03 L684.24 506.13 L684.60 501.65 L684.63 505.53 L684.96 500.42 L685.32 506.12 L685.68 501.55 L686.04 499.92 L686.40 498.31 L686.44 499.48 L686.76 497.87 L687.12 499.72 L687.48 500.34 L687.84 499.14 L688.20 499.09 L688.56 502.96 L688.86 500.69 L688.92 503.61 L689.28 504.74 L689.64 506.26 L690.00 504.50 L690.36 506.80 L690.67 505.53 L690.72 509.40 L691.08 503.58 L691.44 505.21 L691.80 497.01 L691.88 500.69 L692.16 496.18 L692.52 497.33 L692.88 498.99 L693.24 499.93 L693.60 501.55 L693.96 505.04 L694.32 503.35 L694.68 503.95 L695.04 502.63 L695.40 502.02 L695.76 505.06 L696.12 505.21 L696.48 508.92 L696.72 507.94 L696.84 508.44 L697.20 503.66 L697.56 506.82 L697.92 503.40 L698.28 503.48 L698.64 501.70 L699.00 501.10 L699.14 503.11 L699.36 501.23 L699.72 500.08 L700.08 500.55 L700.44 501.53 L700.80 503.75 L701.16 504.30 L701.52 506.54 L701.88 500.29 L702.24 500.80 L702.60 504.09 L702.76 501.90 L702.96 500.74 L703.32 502.29 L703.68 505.05 L704.04 508.02 L704.40 507.48 L704.58 505.53 L704.76 506.89 L705.12 505.53 L705.48 506.61 L705.84 505.80 L706.20 505.96 L706.56 503.94 L706.92 504.29 L707.28 502.80 L707.64 501.84 L708.00 501.97 L708.21 504.32 L708.36 501.57 L708.72 500.97 L709.08 500.31 L709.44 497.55 L709.80 499.71 L710.02 499.48 L710.16 499.73 L710.52 501.59 L710.88 493.68 L711.23 496.46 L711.24 492.59 L711.60 493.51 L711.96 494.04 L712.32 496.14 L712.68 495.00 L713.04 494.88 L713.40 497.92 L713.65 497.06 L713.76 496.58 L714.12 491.99 L714.48 494.75 L714.84 497.16 L715.20 494.64 L715.46 489.81 L715.56 490.29 L715.92 491.02 L716.28 487.37 L716.64 484.71 L717.00 484.11 L717.27 482.55 L717.36 485.23 L717.72 483.09 L718.08 481.28 L718.44 478.23 L718.80 480.13 L719.09 480.13 L719.16 478.25 L719.52 481.34 L719.88 480.86 L720.24 482.93 L720.60 484.53 L720.90 488.60 L720.96 486.15 L721.32 482.98 L721.68 485.10 L722.04 483.14 L722.40 478.65 L722.72 476.51 L722.76 474.46 L723.12 477.88 L723.48 476.06 L723.84 476.98 L724.20 477.95 L724.53 475.30 L724.56 474.93 L724.92 471.56 L725.13 468.04 L725.28 470.14 L725.64 470.63 L726.00 472.81 L726.36 474.07 L726.72 470.41 L726.95 478.92 L727.08 474.85 L727.44 476.85 L727.80 473.83 L728.16 473.99 L728.52 466.38 L728.76 462.00 L728.88 464.63 L729.24 462.26 L729.60 461.68 L729.96 461.63 L730.32 464.65 L730.68 466.57 L731.04 462.16 L731.18 465.62 L731.40 465.45 L731.76 465.91 L732.12 465.05 L732.48 459.90 L732.84 460.55 L733.20 460.25 L733.56 456.08 L733.60 458.37 L733.92 455.01 L734.28 461.04 L734.64 456.76 L735.00 455.51 L735.36 451.88 L735.41 455.95 L735.72 451.90 L736.08 454.44 L736.44 451.92 L736.80 447.35 L737.16 446.40 L737.23 446.28 L737.52 445.82 L737.88 445.10 L738.24 440.72 L738.60 441.14 L738.96 438.18 L739.04 439.02 L739.32 434.39 L739.64 431.77 L739.68 429.66 L740.04 428.82 L740.40 430.63 L740.76 426.18 L741.12 428.25 L741.46 428.14 L741.48 433.16 L741.84 422.68 L742.06 419.67 L742.20 418.98 L742.56 418.92 L742.92 421.90 L743.28 416.58 L743.64 418.71 L744.00 417.77 L744.36 421.35 L744.48 417.26 L744.72 415.24 L745.08 414.36 L745.09 410.00 L745.44 394.40 L745.78 380.56 L745.80 381.22 L746.16 379.86 L746.52 381.30 L746.88 381.26 L747.24 383.78 L747.60 389.27 L747.96 387.61 L748.25 388.81 L748.32 394.44 L748.68 398.23 L749.04 399.53 L749.40 402.11 L749.76 406.25 L749.90 406.96 L750.12 402.17 L750.48 398.23 L750.84 391.85 L751.20 381.66 L751.56 378.37 L751.92 374.26 L752.28 367.78 L752.38 365.71 L752.64 363.72 L753.00 359.38 L753.36 354.41 L753.72 353.29 L754.08 350.97 L754.44 344.18 L754.80 341.66 L754.85 339.31 L755.16 334.54 L755.52 334.44 L755.88 327.65 L756.24 324.72 L756.60 323.02 L756.96 317.00 L757.32 313.65 L757.68 311.95 L757.77 308.91 L758.04 307.94 L758.40 308.25 L758.76 309.33 L759.12 307.48 L759.48 304.38 L759.84 303.70 L760.20 303.28 L760.56 303.18 L760.74 302.97 L760.92 303.28 L761.28 297.44 L761.64 297.29 L762.00 296.44 L762.36 297.43 L762.72 290.50 L763.08 288.22 L763.44 289.71 L763.71 287.13 L763.80 286.99 L764.16 287.20 L764.52 283.75 L764.88 280.25 L765.24 279.12 L765.60 280.07 L765.69 277.23 L765.96 281.51 L766.32 283.30 L766.68 285.74 L767.04 290.33 L767.40 292.83 L767.67 293.07 L767.76 293.76 L768.12 292.66 L768.48 289.83 L768.84 285.32 L769.20 286.69 L769.56 286.43 L769.65 283.17 L769.92 288.72 L770.28 288.74 L770.64 288.34 L771.00 293.25 L771.36 294.61 L771.72 294.34 L772.08 300.09 L772.44 301.85 L772.62 304.95 L772.80 302.01 L773.16 295.93 L773.52 292.89 L773.88 288.27 L774.24 282.42 L774.60 278.21 L774.60 275.25 L774.96 266.56 L775.32 262.65 L775.68 247.35 L776.04 241.52 L776.40 234.25 L776.76 223.17 L776.98 217.82 L777.12 219.45 L777.48 220.55 L777.84 224.89 L778.20 230.15 L778.56 231.18 L778.92 232.68 L779.28 238.77 L779.56 243.56 L779.64 242.30 L780.00 246.15 L780.36 251.77 L780.72 253.99 L781.08 262.41 L781.44 267.96 L781.80 270.34 L782.13 273.27 L782.16 272.13 L782.52 269.04 L782.88 265.51 L783.24 260.58 L783.60 256.86 L783.96 255.33 L784.32 249.75 L784.51 249.50 L784.68 246.29 L785.04 243.49 L785.40 239.37 L785.76 238.38 L786.09 235.64 L786.12 233.59 L786.48 243.32 L786.84 250.11 L787.20 254.97 L787.56 262.43 L787.92 269.43 L788.07 269.31 L788.28 266.45 L788.64 261.21 L789.00 254.99 L789.36 250.02 L789.72 244.92 L790.08 240.74 L790.44 236.76 L790.45 235.64 L790.80 239.40 L791.16 235.97 L791.52 235.52 L791.88 232.48 L792.24 234.62 L792.60 231.67 L792.96 229.59 L793.32 228.15 L793.52 228.17 L793.68 227.24 L794.04 224.62 L794.40 223.61 L794.76 225.04 L795.12 220.83 L795.48 216.62 L795.84 211.88 L796.15 214.11 L796.20 212.62 L796.56 210.55 L796.92 209.63 L797.28 210.38 L797.64 210.24 L797.91 208.84 L798.00 208.94 L798.36 206.34 L798.72 198.63 L799.08 194.02 L799.44 189.36 L799.80 184.85 L800.16 181.33 L800.52 177.04 L800.55 178.96 L800.88 174.99 L801.24 167.41 L801.60 167.94 L801.96 156.32 L802.30 154.36 L802.32 154.98 L802.68 148.27 L803.04 146.15 L803.40 141.89 L803.71 142.06 L803.76 141.97 L804.12 149.15 L804.48 153.54 L804.84 158.33 L804.94 161.39 L805.20 156.44 L805.56 152.86 L805.92 149.24 L806.28 145.98 L806.64 143.91 L806.70 143.81 L807.00 139.34 L807.36 129.69 L807.58 126.24 L807.72 121.04 L808.08 120.73 L808.44 121.18 L808.80 115.97 L809.16 115.33 L809.33 113.94 L809.52 114.50 L809.88 118.96 L810.24 126.97 L810.60 129.13 L810.96 136.35 L811.09 140.30 L811.32 130.65 L811.68 126.69 L812.04 124.05 L812.40 117.37 L812.76 110.75 L813.12 106.98 L813.20 105.15 L813.48 109.73 L813.84 116.74 L814.20 125.93 L814.56 135.02 L814.61 136.78 L814.92 134.30 L815.28 131.01 L815.64 130.64 L816.00 127.32 L816.36 122.94 L816.36 122.72 L816.72 127.65 L817.08 121.94 L817.44 124.05 L817.80 123.04 L818.16 128.73 L818.52 127.18 L818.88 128.08 L819.00 126.24 L819.24 130.17 L819.60 135.99 L819.96 136.61 L820.32 142.39 L820.68 141.81 L820.76 145.57 L821.04 146.49 L821.40 149.46 L821.76 150.51 L822.12 150.97 L822.48 147.01 L822.84 150.27 L823.20 151.10 L823.39 152.60 L823.56 154.03 L823.92 150.67 L824.28 148.12 L824.64 146.86 L825.00 143.21 L825.15 140.30 L825.36 137.31 L825.72 135.75 L826.08 131.79 L826.44 135.98 L826.80 133.51 L827.16 129.66 L827.52 130.93 L827.79 129.75 L827.88 129.98 L828.24 134.25 L828.60 141.66 L828.96 140.41 L829.32 144.19 L829.54 150.84 L829.68 149.93 L830.04 151.83 L830.40 156.07 L830.76 155.47 L831.12 158.01 L831.48 162.10 L831.84 158.35 L832.18 161.39 L832.20 158.00 L832.56 157.67 L832.92 157.71 L833.28 155.16 L833.64 156.17 L834.00 153.65 L834.36 155.74 L834.72 154.32 L834.82 152.60 L835.08 155.82 L835.44 157.17 L835.70 157.87 L835.80 154.95 L836.16 139.08 L836.52 128.47 L836.57 128.00 L836.88 122.62 L837.24 126.19 L837.60 121.33 L837.96 119.12 L838.32 118.17 L838.68 121.84 L839.04 115.37 L839.21 115.69 L839.40 117.51 L839.76 113.80 L840.12 116.09 L840.48 109.99 L840.84 106.19 L841.20 104.71 L841.56 101.90 L841.85 101.63 L841.92 99.09 L842.28 98.19 L842.64 93.24 L843.00 91.91 L843.36 88.52 L843.72 85.70 L844.08 83.68 L844.44 79.64 L844.48 76.15 L844.80 83.51 L845.16 96.26 L845.52 99.38 L845.88 114.24 L846.24 125.27 L846.24 122.72 L846.24 150.84 L846.60 156.99 L846.96 167.90 L847.32 170.35 L847.68 181.97 L848.00 187.75 L848.04 186.75 L848.40 182.94 L848.76 179.49 L849.12 175.17 L849.48 173.88 L849.84 169.45 L850.20 165.61 L850.56 162.12 L850.63 161.39 L850.92 164.58 L851.28 168.13 L851.64 175.84 L852.00 182.15 L852.36 183.66 L852.39 185.99 L852.72 182.42 L853.08 178.66 L853.44 171.72 L853.80 168.44 L854.16 156.73 L854.52 156.38 L854.88 148.48 L855.03 147.33 L855.24 149.20 L855.60 150.10 L855.96 158.91 L856.32 158.03 L856.68 161.86 L857.04 160.91 L857.40 164.89 L857.66 168.42 L857.76 169.98 L858.12 174.13 L858.48 177.41 L858.84 186.02 L859.20 186.00 L859.42 191.27 L859.56 187.09 L859.92 177.76 L860.28 168.03 L860.30 168.42 L860.64 164.58 L861.00 159.30 L861.36 153.38 L861.72 149.69 L862.06 143.81 L862.08 143.76 L862.44 141.76 L862.80 140.59 L863.16 136.22 L863.52 132.55 L863.88 128.20 L864.24 128.73 L864.60 126.00 L864.69 122.72 L864.96 124.09 L865.32 122.93 L865.68 120.05 L866.04 120.62 L866.40 120.88 L866.76 117.78 L867.12 116.92 L867.33 119.21 L867.48 117.26 L867.84 119.50 L868.20 115.64 L868.56 109.45 L868.92 111.36 L869.28 109.70 L869.64 107.33 L869.97 103.39 L870.00 102.92 L870.36 103.73 L870.72 108.94 L871.08 108.94 L871.44 116.17 L871.80 106.41 L872.16 104.46 L872.52 106.61 L872.60 108.66 L872.88 103.32 L873.24 99.81 L873.60 98.77 L873.96 96.95 L874.32 88.36 L874.68 86.98 L875.04 84.43 L875.24 80.54 L875.40 84.70 L875.76 93.80 L876.12 101.21 L876.48 104.63 L876.84 112.54 L877.00 115.69 L877.20 114.28 L877.56 108.21 L877.92 105.91 L878.28 105.31 L878.64 101.55 L879.00 97.37 L879.36 98.73 L879.63 91.09 L879.72 93.61 L880.08 92.82 L880.44 88.53 L880.80 90.79 L881.16 87.75 L881.39 87.57 L881.52 88.12 L881.88 90.48 L882.24 91.53 L882.60 97.46 L882.96 97.74 L883.15 101.63 L883.32 101.24 L883.68 96.38 L884.04 97.12 L884.40 93.67 L884.76 92.42 L885.12 85.76 L885.48 85.18 L885.78 82.30" fill="none" stroke="#ff0000" stroke-width="2.2" stroke-linejoin="round"/>
</svg>
<div class="sans" style="left:97px;top:14px;font-size:19px;font-weight:bold;line-height:22px;transform:scaleY(1.07);transform-origin:0 0">Figure 6.</div>
<div class="sans" style="left:91px;top:58px;width:428px;text-align:center;font-size:19px;font-weight:bold;line-height:19px;letter-spacing:0.08px;transform:scaleY(1.07);transform-origin:0 0">US TREASURY 10-YEAR &amp; 2-YEAR YIELDS<br>(percent, daily)</div>
<div class="sans" style="left:530px;top:211px;font-size:19px;font-weight:bold;line-height:22px;transform:scaleY(1.07);transform-origin:0 0">Interest Rates</div>
<div style="left:529px;top:242px;width:33px;height:2px;background:#f00"></div>
<div style="left:529px;top:262px;width:33px;height:2px;background:#00f"></div>
<div class="sans" style="left:571px;top:235px;font-size:17px;line-height:18px;letter-spacing:0.2px">2-Year Yield (4.92)</div>
<div class="sans" style="left:571px;top:255px;font-size:17px;line-height:18px;letter-spacing:0.22px">10-Year Yield (4.26)</div>
<div class="sans" style="left:890px;top:79px;font-size:15px;line-height:16px;letter-spacing:0.3px;color:#f00">8/18</div>
<div class="sans" style="left:890px;top:138px;font-size:15px;line-height:16px;letter-spacing:0.3px;color:#00f">8/18</div>
<div style="left:957px;top:275.5px;width:90px;height:18px;transform:rotate(90deg);font-family:'Liberation Serif',serif;font-style:italic;font-size:17px;line-height:18px;letter-spacing:0.2px;text-align:center">yardeni.com</div>
<div class="src" style="left:88px;top:563px;letter-spacing:0.07px">Source: Federal Reserve Board.</div>
<div class="yl" style="top:35.7px;right:1537.4px">5.4</div><div class="yr" style="top:35.7px;left:1028px">5.4</div><div class="yl" style="top:52.7px;right:1537.4px">5.2</div><div class="yr" style="top:52.7px;left:1028px">5.2</div><div class="yl" style="top:70.7px;right:1537.4px">5.0</div><div class="yr" style="top:70.7px;left:1028px">5.0</div><div class="yl" style="top:88.7px;right:1537.4px">4.8</div><div class="yr" style="top:88.7px;left:1028px">4.8</div><div class="yl" style="top:106.7px;right:1537.4px">4.6</div><div class="yr" style="top:106.7px;left:1028px">4.6</div><div class="yl" style="top:123.7px;right:1537.4px">4.4</div><div class="yr" style="top:123.7px;left:1028px">4.4</div><div class="yl" style="top:141.7px;right:1537.4px">4.2</div><div class="yr" style="top:141.7px;left:1028px">4.2</div><div class="yl" style="top:159.7px;right:1537.4px">4.0</div><div class="yr" style="top:159.7px;left:1028px">4.0</div><div class="yl" style="top:177.7px;right:1537.4px">3.8</div><div class="yr" style="top:177.7px;left:1028px">3.8</div><div class="yl" style="top:194.7px;right:1537.4px">3.6</div><div class="yr" style="top:194.7px;left:1028px">3.6</div><div class="yl" style="top:212.7px;right:1537.4px">3.4</div><div class="yr" style="top:212.7px;left:1028px">3.4</div><div class="yl" style="top:230.7px;right:1537.4px">3.2</div><div class="yr" style="top:230.7px;left:1028px">3.2</div><div class="yl" style="top:248.7px;right:1537.4px">3.0</div><div class="yr" style="top:248.7px;left:1028px">3.0</div><div class="yl" style="top:265.7px;right:1537.4px">2.8</div><div class="yr" style="top:265.7px;left:1028px">2.8</div><div class="yl" style="top:283.7px;right:1537.4px">2.6</div><div class="yr" style="top:283.7px;left:1028px">2.6</div><div class="yl" style="top:301.7px;right:1537.4px">2.4</div><div class="yr" style="top:301.7px;left:1028px">2.4</div><div class="yl" style="top:319.7px;right:1537.4px">2.2</div><div class="yr" style="top:319.7px;left:1028px">2.2</div><div class="yl" style="top:337.7px;right:1537.4px">2.0</div><div class="yr" style="top:337.7px;left:1028px">2.0</div><div class="yl" style="top:354.7px;right:1537.4px">1.8</div><div class="yr" style="top:354.7px;left:1028px">1.8</div><div class="yl" style="top:372.7px;right:1537.4px">1.6</div><div class="yr" style="top:372.7px;left:1028px">1.6</div><div class="yl" style="top:390.7px;right:1537.4px">1.4</div><div class="yr" style="top:390.7px;left:1028px">1.4</div><div class="yl" style="top:408.7px;right:1537.4px">1.2</div><div class="yr" style="top:408.7px;left:1028px">1.2</div><div class="yl" style="top:425.7px;right:1537.4px">1.0</div><div class="yr" style="top:425.7px;left:1028px">1.0</div><div class="yl" style="top:443.7px;right:1537.4px">.8</div><div class="yr" style="top:443.7px;left:1028px">.8</div><div class="yl" style="top:461.7px;right:1537.4px">.6</div><div class="yr" style="top:461.7px;left:1028px">.6</div><div class="yl" style="top:479.7px;right:1537.4px">.4</div><div class="yr" style="top:479.7px;left:1028px">.4</div><div class="yl" style="top:496.7px;right:1537.4px">.2</div><div class="yr" style="top:496.7px;left:1028px">.2</div><div class="yl" style="top:514.7px;right:1537.4px">.0</div><div class="yr" style="top:514.7px;left:1028px">.0</div><div class="xl" style="top:529px;left:104.0px">2015</div><div class="xl" style="top:529px;left:196.5px">2016</div><div class="xl" style="top:529px;left:289.0px">2017</div><div class="xl" style="top:529px;left:381.5px">2018</div><div class="xl" style="top:529px;left:474.0px">2019</div><div class="xl" style="top:529px;left:566.5px">2020</div><div class="xl" style="top:529px;left:659.0px">2021</div><div class="xl" style="top:529px;left:751.5px">2022</div><div class="xl" style="top:529px;left:844.0px">2023</div><div class="xl" style="top:529px;left:936.5px">2024</div>
</body></html>
